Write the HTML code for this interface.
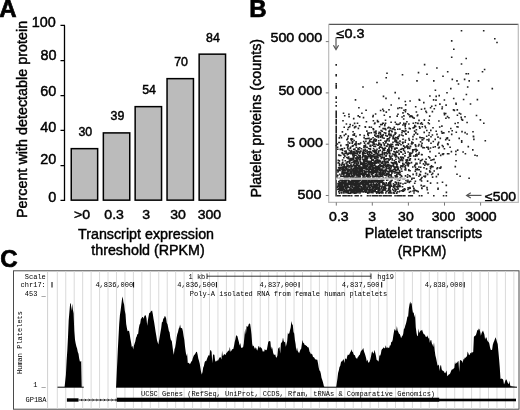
<!DOCTYPE html>
<html><head><meta charset="utf-8"><style>
html,body{margin:0;padding:0;background:#fff;width:520px;height:410px;overflow:hidden}
svg{display:block;will-change:transform}
text{fill:#000}
</style></head><body><svg width="520" height="410" viewBox="0 0 520 410"><text transform="translate(-0.80,17.00)" text-anchor="start" font-family="'Liberation Sans', sans-serif" font-size="24" font-weight="bold" stroke="#000" stroke-width="0.7">A</text><path d="M64.5 25.4 V200.9 M60.5 25.4 H65 M60.5 60.6 H65 M60.5 95.7 H65 M60.5 130.4 H65 M60.5 165.6 H65 M60.5 200.4 H65" stroke="#000" stroke-width="1.3" fill="none"/><text transform="translate(55.70,26.90) scale(1.03,1)" text-anchor="end" font-family="'Liberation Sans', sans-serif" font-size="14" font-weight="normal" stroke="#000" stroke-width="0.45">100</text><text transform="translate(56.50,59.70) scale(1.03,1)" text-anchor="end" font-family="'Liberation Sans', sans-serif" font-size="14" font-weight="normal" stroke="#000" stroke-width="0.45">80</text><text transform="translate(56.20,95.50) scale(1.03,1)" text-anchor="end" font-family="'Liberation Sans', sans-serif" font-size="14" font-weight="normal" stroke="#000" stroke-width="0.45">60</text><text transform="translate(56.30,132.40) scale(1.03,1)" text-anchor="end" font-family="'Liberation Sans', sans-serif" font-size="14" font-weight="normal" stroke="#000" stroke-width="0.45">40</text><text transform="translate(56.30,163.60) scale(1.03,1)" text-anchor="end" font-family="'Liberation Sans', sans-serif" font-size="14" font-weight="normal" stroke="#000" stroke-width="0.45">20</text><text transform="translate(56.20,201.70) scale(1.03,1)" text-anchor="end" font-family="'Liberation Sans', sans-serif" font-size="14" font-weight="normal" stroke="#000" stroke-width="0.45">0</text><rect x="71.25" y="148.65" width="26.4" height="51.50" fill="#bbbbbb" stroke="#000" stroke-width="1.5"/><rect x="103.35" y="132.90" width="26.4" height="67.25" fill="#bbbbbb" stroke="#000" stroke-width="1.5"/><rect x="135.15" y="106.65" width="26.4" height="93.50" fill="#bbbbbb" stroke="#000" stroke-width="1.5"/><rect x="167.05" y="78.65" width="26.4" height="121.50" fill="#bbbbbb" stroke="#000" stroke-width="1.5"/><rect x="199.15" y="54.15" width="26.4" height="146.00" fill="#bbbbbb" stroke="#000" stroke-width="1.5"/><text transform="translate(85.30,135.70) scale(1.03,1)" text-anchor="middle" font-family="'Liberation Sans', sans-serif" font-size="12" font-weight="normal" stroke="#000" stroke-width="0.45">30</text><text transform="translate(117.40,120.30) scale(1.03,1)" text-anchor="middle" font-family="'Liberation Sans', sans-serif" font-size="12" font-weight="normal" stroke="#000" stroke-width="0.45">39</text><text transform="translate(149.00,94.20) scale(1.03,1)" text-anchor="middle" font-family="'Liberation Sans', sans-serif" font-size="12" font-weight="normal" stroke="#000" stroke-width="0.45">54</text><text transform="translate(181.10,65.90) scale(1.03,1)" text-anchor="middle" font-family="'Liberation Sans', sans-serif" font-size="12" font-weight="normal" stroke="#000" stroke-width="0.45">70</text><text transform="translate(212.90,42.10) scale(1.03,1)" text-anchor="middle" font-family="'Liberation Sans', sans-serif" font-size="12" font-weight="normal" stroke="#000" stroke-width="0.45">84</text><text transform="translate(82.00,218.80) scale(1.1,1)" text-anchor="middle" font-family="'Liberation Sans', sans-serif" font-size="12.8" font-weight="normal" stroke="#000" stroke-width="0.45">>0</text><text transform="translate(114.10,218.80) scale(1.1,1)" text-anchor="middle" font-family="'Liberation Sans', sans-serif" font-size="12.8" font-weight="normal" stroke="#000" stroke-width="0.45">0.3</text><text transform="translate(146.10,218.80) scale(1.1,1)" text-anchor="middle" font-family="'Liberation Sans', sans-serif" font-size="12.8" font-weight="normal" stroke="#000" stroke-width="0.45">3</text><text transform="translate(178.10,218.80) scale(1.1,1)" text-anchor="middle" font-family="'Liberation Sans', sans-serif" font-size="12.8" font-weight="normal" stroke="#000" stroke-width="0.45">30</text><text transform="translate(209.40,218.80) scale(1.1,1)" text-anchor="middle" font-family="'Liberation Sans', sans-serif" font-size="12.8" font-weight="normal" stroke="#000" stroke-width="0.45">300</text><text transform="translate(146.00,238.70) scale(0.94,1)" text-anchor="middle" font-family="'Liberation Sans', sans-serif" font-size="15.2" font-weight="normal" stroke="#000" stroke-width="0.45">Transcript expression</text><text transform="translate(148.00,255.20) scale(0.94,1)" text-anchor="middle" font-family="'Liberation Sans', sans-serif" font-size="15.2" font-weight="normal" stroke="#000" stroke-width="0.45">threshold (RPKM)</text><text transform="translate(26.90,119.50) rotate(-90) scale(1.005,1)" text-anchor="middle" font-family="'Liberation Sans', sans-serif" font-size="14.3" font-weight="normal" stroke="#000" stroke-width="0.45">Percent with detectable protein</text><text transform="translate(249.20,17.00)" text-anchor="start" font-family="'Liberation Sans', sans-serif" font-size="24" font-weight="bold" stroke="#000" stroke-width="0.7">B</text><rect x="335.4" y="145" width="1.4" height="51.5" fill="#222"/><path d="M367.6 158.1h1.6v1.6h-1.6zM376.1 133.6h1.6v1.6h-1.6zM362.8 188.1h1.6v1.6h-1.6zM389.0 160.3h1.6v1.6h-1.6zM377.3 171.1h1.6v1.6h-1.6zM373.7 163.2h1.6v1.6h-1.6zM349.7 190.5h1.6v1.6h-1.6zM378.8 143.0h1.6v1.6h-1.6zM373.2 143.5h1.6v1.6h-1.6zM346.5 152.9h1.6v1.6h-1.6zM378.5 162.3h1.6v1.6h-1.6zM356.7 189.1h1.6v1.6h-1.6zM403.1 142.2h1.6v1.6h-1.6zM371.5 152.5h1.6v1.6h-1.6zM376.2 185.0h1.6v1.6h-1.6zM376.5 150.9h1.6v1.6h-1.6zM346.3 152.5h1.6v1.6h-1.6zM377.7 170.3h1.6v1.6h-1.6zM456.1 104.1h1.6v1.6h-1.6zM350.6 177.9h1.6v1.6h-1.6zM395.6 177.2h1.6v1.6h-1.6zM395.1 175.7h1.6v1.6h-1.6zM359.1 167.4h1.6v1.6h-1.6zM413.7 156.0h1.6v1.6h-1.6zM357.0 181.3h1.6v1.6h-1.6zM342.2 163.4h1.6v1.6h-1.6zM371.9 153.5h1.6v1.6h-1.6zM395.9 159.2h1.6v1.6h-1.6zM365.4 172.3h1.6v1.6h-1.6zM431.0 143.2h1.6v1.6h-1.6zM366.9 175.1h1.6v1.6h-1.6zM371.3 132.8h1.6v1.6h-1.6zM363.8 184.8h1.6v1.6h-1.6zM394.6 155.7h1.6v1.6h-1.6zM395.1 132.6h1.6v1.6h-1.6zM409.8 187.5h1.6v1.6h-1.6zM392.1 156.0h1.6v1.6h-1.6zM384.4 145.4h1.6v1.6h-1.6zM389.1 149.0h1.6v1.6h-1.6zM390.0 116.9h1.6v1.6h-1.6zM372.4 171.6h1.6v1.6h-1.6zM360.8 170.4h1.6v1.6h-1.6zM342.1 148.9h1.6v1.6h-1.6zM384.9 175.3h1.6v1.6h-1.6zM401.7 135.0h1.6v1.6h-1.6zM398.3 189.0h1.6v1.6h-1.6zM399.1 153.6h1.6v1.6h-1.6zM346.4 124.0h1.6v1.6h-1.6zM427.0 187.6h1.6v1.6h-1.6zM367.6 143.4h1.6v1.6h-1.6zM353.9 151.9h1.6v1.6h-1.6zM370.5 149.4h1.6v1.6h-1.6zM374.8 186.4h1.6v1.6h-1.6zM366.4 183.2h1.6v1.6h-1.6zM374.6 154.6h1.6v1.6h-1.6zM367.0 174.9h1.6v1.6h-1.6zM356.7 177.1h1.6v1.6h-1.6zM359.2 191.1h1.6v1.6h-1.6zM384.1 138.2h1.6v1.6h-1.6zM360.0 134.9h1.6v1.6h-1.6zM397.5 172.5h1.6v1.6h-1.6zM387.8 149.7h1.6v1.6h-1.6zM370.8 163.8h1.6v1.6h-1.6zM362.5 174.4h1.6v1.6h-1.6zM367.0 156.3h1.6v1.6h-1.6zM395.5 154.1h1.6v1.6h-1.6zM361.3 191.8h1.6v1.6h-1.6zM405.7 104.9h1.6v1.6h-1.6zM370.8 179.1h1.6v1.6h-1.6zM404.5 190.5h1.6v1.6h-1.6zM430.5 172.0h1.6v1.6h-1.6zM402.2 157.2h1.6v1.6h-1.6zM402.7 160.7h1.6v1.6h-1.6zM429.1 120.3h1.6v1.6h-1.6zM344.8 184.9h1.6v1.6h-1.6zM353.3 181.7h1.6v1.6h-1.6zM401.4 152.2h1.6v1.6h-1.6zM375.6 166.0h1.6v1.6h-1.6zM375.5 152.4h1.6v1.6h-1.6zM346.7 166.8h1.6v1.6h-1.6zM386.3 191.5h1.6v1.6h-1.6zM359.5 174.4h1.6v1.6h-1.6zM384.2 157.4h1.6v1.6h-1.6zM347.4 139.3h1.6v1.6h-1.6zM397.8 124.5h1.6v1.6h-1.6zM376.6 181.1h1.6v1.6h-1.6zM414.1 118.1h1.6v1.6h-1.6zM340.7 155.5h1.6v1.6h-1.6zM358.9 107.7h1.6v1.6h-1.6zM422.0 177.5h1.6v1.6h-1.6zM413.1 186.4h1.6v1.6h-1.6zM375.7 172.2h1.6v1.6h-1.6zM391.1 167.0h1.6v1.6h-1.6zM352.9 155.6h1.6v1.6h-1.6zM359.0 176.9h1.6v1.6h-1.6zM374.2 132.0h1.6v1.6h-1.6zM440.9 167.0h1.6v1.6h-1.6zM363.4 153.6h1.6v1.6h-1.6zM385.4 178.1h1.6v1.6h-1.6zM381.5 165.6h1.6v1.6h-1.6zM376.7 173.2h1.6v1.6h-1.6zM367.7 175.0h1.6v1.6h-1.6zM415.5 156.2h1.6v1.6h-1.6zM406.2 147.0h1.6v1.6h-1.6zM395.1 168.0h1.6v1.6h-1.6zM430.4 166.8h1.6v1.6h-1.6zM372.9 177.7h1.6v1.6h-1.6zM359.9 177.7h1.6v1.6h-1.6zM389.6 165.3h1.6v1.6h-1.6zM372.7 175.8h1.6v1.6h-1.6zM345.8 191.4h1.6v1.6h-1.6zM379.8 155.4h1.6v1.6h-1.6zM457.0 126.7h1.6v1.6h-1.6zM369.3 192.0h1.6v1.6h-1.6zM355.1 172.6h1.6v1.6h-1.6zM431.0 136.8h1.6v1.6h-1.6zM391.1 145.9h1.6v1.6h-1.6zM369.4 127.1h1.6v1.6h-1.6zM348.6 181.3h1.6v1.6h-1.6zM428.8 140.9h1.6v1.6h-1.6zM354.5 189.5h1.6v1.6h-1.6zM362.5 179.0h1.6v1.6h-1.6zM369.2 188.5h1.6v1.6h-1.6zM373.4 120.8h1.6v1.6h-1.6zM448.9 131.8h1.6v1.6h-1.6zM375.9 163.1h1.6v1.6h-1.6zM385.7 166.4h1.6v1.6h-1.6zM396.5 170.6h1.6v1.6h-1.6zM373.0 192.6h1.6v1.6h-1.6zM351.3 168.9h1.6v1.6h-1.6zM410.2 146.3h1.6v1.6h-1.6zM371.0 166.3h1.6v1.6h-1.6zM366.1 178.8h1.6v1.6h-1.6zM347.5 183.4h1.6v1.6h-1.6zM407.7 181.7h1.6v1.6h-1.6zM385.8 166.2h1.6v1.6h-1.6zM408.9 138.6h1.6v1.6h-1.6zM350.4 158.6h1.6v1.6h-1.6zM400.1 178.0h1.6v1.6h-1.6zM342.9 190.2h1.6v1.6h-1.6zM407.0 145.7h1.6v1.6h-1.6zM410.6 181.3h1.6v1.6h-1.6zM363.5 117.6h1.6v1.6h-1.6zM361.9 178.5h1.6v1.6h-1.6zM366.9 189.7h1.6v1.6h-1.6zM349.4 170.7h1.6v1.6h-1.6zM403.0 184.0h1.6v1.6h-1.6zM374.5 132.8h1.6v1.6h-1.6zM357.2 189.7h1.6v1.6h-1.6zM392.3 129.0h1.6v1.6h-1.6zM375.8 170.0h1.6v1.6h-1.6zM355.0 171.4h1.6v1.6h-1.6zM344.5 164.4h1.6v1.6h-1.6zM352.3 178.9h1.6v1.6h-1.6zM372.9 116.7h1.6v1.6h-1.6zM357.9 180.9h1.6v1.6h-1.6zM385.4 148.1h1.6v1.6h-1.6zM352.9 177.9h1.6v1.6h-1.6zM397.9 108.4h1.6v1.6h-1.6zM354.1 140.5h1.6v1.6h-1.6zM365.8 151.3h1.6v1.6h-1.6zM346.7 157.5h1.6v1.6h-1.6zM424.4 147.8h1.6v1.6h-1.6zM364.7 167.1h1.6v1.6h-1.6zM373.6 148.6h1.6v1.6h-1.6zM372.7 175.8h1.6v1.6h-1.6zM372.7 164.9h1.6v1.6h-1.6zM371.7 157.4h1.6v1.6h-1.6zM369.8 182.4h1.6v1.6h-1.6zM354.4 153.5h1.6v1.6h-1.6zM374.3 162.3h1.6v1.6h-1.6zM376.2 163.0h1.6v1.6h-1.6zM378.6 151.5h1.6v1.6h-1.6zM361.5 167.9h1.6v1.6h-1.6zM378.4 162.9h1.6v1.6h-1.6zM345.1 184.6h1.6v1.6h-1.6zM381.3 144.6h1.6v1.6h-1.6zM385.6 163.5h1.6v1.6h-1.6zM387.1 153.7h1.6v1.6h-1.6zM346.6 190.4h1.6v1.6h-1.6zM414.7 183.3h1.6v1.6h-1.6zM381.0 136.0h1.6v1.6h-1.6zM346.9 139.7h1.6v1.6h-1.6zM365.4 138.8h1.6v1.6h-1.6zM442.3 145.5h1.6v1.6h-1.6zM349.7 187.9h1.6v1.6h-1.6zM386.9 162.7h1.6v1.6h-1.6zM377.4 161.6h1.6v1.6h-1.6zM357.4 157.2h1.6v1.6h-1.6zM397.4 191.7h1.6v1.6h-1.6zM410.6 146.4h1.6v1.6h-1.6zM366.8 161.5h1.6v1.6h-1.6zM365.5 161.8h1.6v1.6h-1.6zM355.7 165.3h1.6v1.6h-1.6zM374.0 143.9h1.6v1.6h-1.6zM390.8 165.6h1.6v1.6h-1.6zM439.8 168.0h1.6v1.6h-1.6zM399.4 162.3h1.6v1.6h-1.6zM373.4 184.1h1.6v1.6h-1.6zM453.7 98.5h1.6v1.6h-1.6zM373.2 115.6h1.6v1.6h-1.6zM422.4 159.5h1.6v1.6h-1.6zM428.3 122.7h1.6v1.6h-1.6zM369.7 151.5h1.6v1.6h-1.6zM399.4 180.3h1.6v1.6h-1.6zM384.1 128.5h1.6v1.6h-1.6zM389.1 171.6h1.6v1.6h-1.6zM363.1 192.0h1.6v1.6h-1.6zM368.4 185.0h1.6v1.6h-1.6zM380.1 154.5h1.6v1.6h-1.6zM395.4 132.8h1.6v1.6h-1.6zM380.4 173.9h1.6v1.6h-1.6zM416.5 175.0h1.6v1.6h-1.6zM456.0 103.2h1.6v1.6h-1.6zM380.6 110.5h1.6v1.6h-1.6zM371.2 169.4h1.6v1.6h-1.6zM356.3 165.6h1.6v1.6h-1.6zM380.4 132.8h1.6v1.6h-1.6zM366.2 161.6h1.6v1.6h-1.6zM373.7 154.8h1.6v1.6h-1.6zM365.8 183.9h1.6v1.6h-1.6zM396.3 183.9h1.6v1.6h-1.6zM353.0 177.5h1.6v1.6h-1.6zM459.4 113.2h1.6v1.6h-1.6zM440.3 138.4h1.6v1.6h-1.6zM395.7 190.1h1.6v1.6h-1.6zM358.3 168.9h1.6v1.6h-1.6zM369.5 188.2h1.6v1.6h-1.6zM395.6 137.6h1.6v1.6h-1.6zM381.6 154.6h1.6v1.6h-1.6zM376.6 167.8h1.6v1.6h-1.6zM384.3 160.0h1.6v1.6h-1.6zM382.9 192.9h1.6v1.6h-1.6zM366.7 179.9h1.6v1.6h-1.6zM447.5 116.6h1.6v1.6h-1.6zM421.5 109.2h1.6v1.6h-1.6zM359.1 190.6h1.6v1.6h-1.6zM373.0 186.2h1.6v1.6h-1.6zM367.2 169.2h1.6v1.6h-1.6zM364.0 152.6h1.6v1.6h-1.6zM352.2 175.7h1.6v1.6h-1.6zM472.8 149.9h1.6v1.6h-1.6zM368.4 171.3h1.6v1.6h-1.6zM396.5 140.2h1.6v1.6h-1.6zM432.4 135.0h1.6v1.6h-1.6zM376.7 166.9h1.6v1.6h-1.6zM429.3 123.8h1.6v1.6h-1.6zM359.2 183.3h1.6v1.6h-1.6zM394.9 185.9h1.6v1.6h-1.6zM424.8 165.2h1.6v1.6h-1.6zM383.3 142.7h1.6v1.6h-1.6zM357.6 187.9h1.6v1.6h-1.6zM359.7 144.0h1.6v1.6h-1.6zM373.1 171.5h1.6v1.6h-1.6zM396.1 177.7h1.6v1.6h-1.6zM384.7 150.3h1.6v1.6h-1.6zM393.8 166.5h1.6v1.6h-1.6zM417.6 169.7h1.6v1.6h-1.6zM385.8 129.6h1.6v1.6h-1.6zM347.3 171.8h1.6v1.6h-1.6zM367.9 133.1h1.6v1.6h-1.6zM348.5 158.8h1.6v1.6h-1.6zM377.3 155.0h1.6v1.6h-1.6zM344.6 189.3h1.6v1.6h-1.6zM376.9 157.0h1.6v1.6h-1.6zM391.1 167.7h1.6v1.6h-1.6zM373.4 159.7h1.6v1.6h-1.6zM362.9 164.2h1.6v1.6h-1.6zM353.9 152.3h1.6v1.6h-1.6zM363.1 191.6h1.6v1.6h-1.6zM347.4 178.8h1.6v1.6h-1.6zM378.5 137.4h1.6v1.6h-1.6zM399.8 174.7h1.6v1.6h-1.6zM393.8 135.4h1.6v1.6h-1.6zM351.0 182.3h1.6v1.6h-1.6zM427.3 164.3h1.6v1.6h-1.6zM405.2 167.5h1.6v1.6h-1.6zM370.4 152.1h1.6v1.6h-1.6zM398.7 174.0h1.6v1.6h-1.6zM372.2 190.8h1.6v1.6h-1.6zM416.5 139.0h1.6v1.6h-1.6zM374.8 176.2h1.6v1.6h-1.6zM421.2 137.8h1.6v1.6h-1.6zM400.4 186.5h1.6v1.6h-1.6zM402.5 186.8h1.6v1.6h-1.6zM398.9 158.7h1.6v1.6h-1.6zM378.7 178.4h1.6v1.6h-1.6zM388.0 165.2h1.6v1.6h-1.6zM363.9 176.8h1.6v1.6h-1.6zM373.9 165.6h1.6v1.6h-1.6zM354.1 156.8h1.6v1.6h-1.6zM395.0 129.8h1.6v1.6h-1.6zM413.2 127.9h1.6v1.6h-1.6zM457.4 115.2h1.6v1.6h-1.6zM397.7 166.9h1.6v1.6h-1.6zM377.2 162.7h1.6v1.6h-1.6zM349.0 167.4h1.6v1.6h-1.6zM373.1 128.7h1.6v1.6h-1.6zM382.3 157.0h1.6v1.6h-1.6zM375.4 181.1h1.6v1.6h-1.6zM362.2 189.5h1.6v1.6h-1.6zM403.7 131.1h1.6v1.6h-1.6zM378.5 152.9h1.6v1.6h-1.6zM409.1 188.5h1.6v1.6h-1.6zM383.2 166.9h1.6v1.6h-1.6zM415.7 133.0h1.6v1.6h-1.6zM352.0 190.9h1.6v1.6h-1.6zM371.9 174.3h1.6v1.6h-1.6zM365.7 172.7h1.6v1.6h-1.6zM415.7 106.8h1.6v1.6h-1.6zM386.3 170.6h1.6v1.6h-1.6zM373.6 129.7h1.6v1.6h-1.6zM375.2 191.7h1.6v1.6h-1.6zM380.4 144.6h1.6v1.6h-1.6zM416.1 149.2h1.6v1.6h-1.6zM400.2 160.0h1.6v1.6h-1.6zM448.1 144.5h1.6v1.6h-1.6zM395.0 189.0h1.6v1.6h-1.6zM397.6 187.6h1.6v1.6h-1.6zM387.9 158.8h1.6v1.6h-1.6zM372.4 175.1h1.6v1.6h-1.6zM340.3 149.4h1.6v1.6h-1.6zM354.9 149.1h1.6v1.6h-1.6zM370.5 158.1h1.6v1.6h-1.6zM370.8 139.5h1.6v1.6h-1.6zM374.9 181.1h1.6v1.6h-1.6zM391.8 148.7h1.6v1.6h-1.6zM370.3 190.2h1.6v1.6h-1.6zM364.7 177.5h1.6v1.6h-1.6zM356.4 186.2h1.6v1.6h-1.6zM385.8 193.0h1.6v1.6h-1.6zM457.3 109.9h1.6v1.6h-1.6zM443.8 132.9h1.6v1.6h-1.6zM387.2 185.2h1.6v1.6h-1.6zM340.6 135.7h1.6v1.6h-1.6zM368.9 168.5h1.6v1.6h-1.6zM352.5 166.1h1.6v1.6h-1.6zM354.1 175.4h1.6v1.6h-1.6zM391.6 135.6h1.6v1.6h-1.6zM379.8 181.4h1.6v1.6h-1.6zM353.9 170.2h1.6v1.6h-1.6zM342.2 181.7h1.6v1.6h-1.6zM403.0 154.2h1.6v1.6h-1.6zM364.6 172.7h1.6v1.6h-1.6zM356.5 192.0h1.6v1.6h-1.6zM365.3 185.9h1.6v1.6h-1.6zM360.0 173.4h1.6v1.6h-1.6zM448.8 153.7h1.6v1.6h-1.6zM351.3 174.0h1.6v1.6h-1.6zM414.2 127.2h1.6v1.6h-1.6zM354.3 183.5h1.6v1.6h-1.6zM369.0 154.8h1.6v1.6h-1.6zM380.6 176.7h1.6v1.6h-1.6zM359.8 170.7h1.6v1.6h-1.6zM384.5 165.1h1.6v1.6h-1.6zM347.2 173.0h1.6v1.6h-1.6zM369.2 186.9h1.6v1.6h-1.6zM369.1 180.6h1.6v1.6h-1.6zM363.9 189.1h1.6v1.6h-1.6zM369.8 141.1h1.6v1.6h-1.6zM385.0 128.9h1.6v1.6h-1.6zM384.7 125.6h1.6v1.6h-1.6zM371.1 156.5h1.6v1.6h-1.6zM398.4 178.7h1.6v1.6h-1.6zM422.3 126.7h1.6v1.6h-1.6zM357.8 191.1h1.6v1.6h-1.6zM359.1 168.0h1.6v1.6h-1.6zM358.1 172.5h1.6v1.6h-1.6zM373.4 128.7h1.6v1.6h-1.6zM394.4 167.9h1.6v1.6h-1.6zM357.5 123.3h1.6v1.6h-1.6zM383.5 96.4h1.6v1.6h-1.6zM483.8 123.3h1.6v1.6h-1.6zM393.3 171.6h1.6v1.6h-1.6zM354.4 189.0h1.6v1.6h-1.6zM377.0 149.2h1.6v1.6h-1.6zM356.0 160.4h1.6v1.6h-1.6zM370.2 172.1h1.6v1.6h-1.6zM409.6 159.5h1.6v1.6h-1.6zM356.5 182.8h1.6v1.6h-1.6zM354.7 183.5h1.6v1.6h-1.6zM375.7 160.6h1.6v1.6h-1.6zM365.4 181.5h1.6v1.6h-1.6zM389.5 155.7h1.6v1.6h-1.6zM351.3 166.7h1.6v1.6h-1.6zM340.8 145.6h1.6v1.6h-1.6zM380.6 169.0h1.6v1.6h-1.6zM374.3 139.8h1.6v1.6h-1.6zM380.8 180.0h1.6v1.6h-1.6zM403.6 145.7h1.6v1.6h-1.6zM404.6 151.3h1.6v1.6h-1.6zM413.3 123.3h1.6v1.6h-1.6zM370.7 161.8h1.6v1.6h-1.6zM400.8 160.4h1.6v1.6h-1.6zM361.0 178.8h1.6v1.6h-1.6zM355.3 167.9h1.6v1.6h-1.6zM403.3 191.1h1.6v1.6h-1.6zM356.3 173.1h1.6v1.6h-1.6zM347.3 183.6h1.6v1.6h-1.6zM420.7 167.2h1.6v1.6h-1.6zM418.7 154.3h1.6v1.6h-1.6zM382.5 154.9h1.6v1.6h-1.6zM415.3 159.4h1.6v1.6h-1.6zM415.4 149.2h1.6v1.6h-1.6zM394.9 149.1h1.6v1.6h-1.6zM365.1 158.8h1.6v1.6h-1.6zM365.6 147.0h1.6v1.6h-1.6zM427.1 139.7h1.6v1.6h-1.6zM380.6 137.1h1.6v1.6h-1.6zM410.2 176.5h1.6v1.6h-1.6zM339.2 169.2h1.6v1.6h-1.6zM363.5 175.0h1.6v1.6h-1.6zM362.9 184.9h1.6v1.6h-1.6zM457.7 150.1h1.6v1.6h-1.6zM386.9 168.4h1.6v1.6h-1.6zM399.5 135.0h1.6v1.6h-1.6zM398.8 161.4h1.6v1.6h-1.6zM424.3 120.1h1.6v1.6h-1.6zM371.2 156.2h1.6v1.6h-1.6zM403.5 149.3h1.6v1.6h-1.6zM383.9 186.9h1.6v1.6h-1.6zM392.1 170.8h1.6v1.6h-1.6zM430.6 183.1h1.6v1.6h-1.6zM347.0 164.6h1.6v1.6h-1.6zM356.0 136.4h1.6v1.6h-1.6zM407.8 148.4h1.6v1.6h-1.6zM379.3 169.7h1.6v1.6h-1.6zM344.7 190.7h1.6v1.6h-1.6zM355.0 191.0h1.6v1.6h-1.6zM401.4 176.0h1.6v1.6h-1.6zM398.9 150.6h1.6v1.6h-1.6zM412.1 116.3h1.6v1.6h-1.6zM393.5 183.9h1.6v1.6h-1.6zM338.7 170.4h1.6v1.6h-1.6zM380.6 171.6h1.6v1.6h-1.6zM382.6 173.8h1.6v1.6h-1.6zM347.8 129.5h1.6v1.6h-1.6zM396.9 174.5h1.6v1.6h-1.6zM390.7 175.2h1.6v1.6h-1.6zM369.1 170.1h1.6v1.6h-1.6zM403.0 112.9h1.6v1.6h-1.6zM385.7 135.4h1.6v1.6h-1.6zM358.5 171.7h1.6v1.6h-1.6zM349.7 143.1h1.6v1.6h-1.6zM345.4 186.7h1.6v1.6h-1.6zM386.3 165.3h1.6v1.6h-1.6zM346.8 176.9h1.6v1.6h-1.6zM366.1 171.8h1.6v1.6h-1.6zM349.0 174.6h1.6v1.6h-1.6zM391.9 171.7h1.6v1.6h-1.6zM393.5 171.7h1.6v1.6h-1.6zM343.9 173.1h1.6v1.6h-1.6zM386.6 168.0h1.6v1.6h-1.6zM341.1 189.1h1.6v1.6h-1.6zM351.6 179.5h1.6v1.6h-1.6zM378.6 167.5h1.6v1.6h-1.6zM393.6 185.8h1.6v1.6h-1.6zM396.5 148.1h1.6v1.6h-1.6zM434.2 171.0h1.6v1.6h-1.6zM369.9 177.8h1.6v1.6h-1.6zM344.7 115.7h1.6v1.6h-1.6zM371.6 179.1h1.6v1.6h-1.6zM420.4 160.9h1.6v1.6h-1.6zM416.4 129.7h1.6v1.6h-1.6zM366.2 191.6h1.6v1.6h-1.6zM349.0 153.1h1.6v1.6h-1.6zM436.4 176.6h1.6v1.6h-1.6zM380.8 175.7h1.6v1.6h-1.6zM427.6 181.1h1.6v1.6h-1.6zM388.8 183.9h1.6v1.6h-1.6zM396.4 142.5h1.6v1.6h-1.6zM400.0 141.1h1.6v1.6h-1.6zM382.4 190.0h1.6v1.6h-1.6zM361.0 170.1h1.6v1.6h-1.6zM347.7 187.6h1.6v1.6h-1.6zM354.2 183.2h1.6v1.6h-1.6zM387.8 153.4h1.6v1.6h-1.6zM397.9 169.3h1.6v1.6h-1.6zM401.8 157.6h1.6v1.6h-1.6zM428.1 148.0h1.6v1.6h-1.6zM429.8 171.9h1.6v1.6h-1.6zM433.6 99.9h1.6v1.6h-1.6zM379.1 187.9h1.6v1.6h-1.6zM377.2 155.0h1.6v1.6h-1.6zM359.0 179.5h1.6v1.6h-1.6zM380.7 140.3h1.6v1.6h-1.6zM358.4 128.4h1.6v1.6h-1.6zM421.8 188.1h1.6v1.6h-1.6zM390.4 165.9h1.6v1.6h-1.6zM352.8 125.5h1.6v1.6h-1.6zM362.3 169.5h1.6v1.6h-1.6zM382.4 136.3h1.6v1.6h-1.6zM401.5 169.0h1.6v1.6h-1.6zM370.0 187.9h1.6v1.6h-1.6zM355.0 126.9h1.6v1.6h-1.6zM364.9 190.4h1.6v1.6h-1.6zM397.8 129.3h1.6v1.6h-1.6zM437.0 168.6h1.6v1.6h-1.6zM444.5 114.6h1.6v1.6h-1.6zM429.3 132.8h1.6v1.6h-1.6zM350.3 171.8h1.6v1.6h-1.6zM439.7 127.0h1.6v1.6h-1.6zM398.6 182.5h1.6v1.6h-1.6zM359.2 179.0h1.6v1.6h-1.6zM355.3 179.6h1.6v1.6h-1.6zM378.6 191.8h1.6v1.6h-1.6zM415.3 164.7h1.6v1.6h-1.6zM391.4 170.3h1.6v1.6h-1.6zM408.5 162.9h1.6v1.6h-1.6zM350.4 165.9h1.6v1.6h-1.6zM429.9 96.0h1.6v1.6h-1.6zM364.1 145.9h1.6v1.6h-1.6zM354.6 152.1h1.6v1.6h-1.6zM349.4 184.0h1.6v1.6h-1.6zM371.6 180.5h1.6v1.6h-1.6zM363.5 183.3h1.6v1.6h-1.6zM351.3 150.6h1.6v1.6h-1.6zM428.9 135.3h1.6v1.6h-1.6zM434.0 159.4h1.6v1.6h-1.6zM418.9 167.0h1.6v1.6h-1.6zM374.5 161.3h1.6v1.6h-1.6zM371.4 127.3h1.6v1.6h-1.6zM455.3 166.6h1.6v1.6h-1.6zM449.3 140.3h1.6v1.6h-1.6zM394.8 188.4h1.6v1.6h-1.6zM358.9 174.3h1.6v1.6h-1.6zM344.5 177.3h1.6v1.6h-1.6zM395.1 134.1h1.6v1.6h-1.6zM467.1 122.5h1.6v1.6h-1.6zM365.5 167.6h1.6v1.6h-1.6zM386.7 185.4h1.6v1.6h-1.6zM376.5 187.2h1.6v1.6h-1.6zM341.9 181.2h1.6v1.6h-1.6zM373.4 178.2h1.6v1.6h-1.6zM351.0 164.2h1.6v1.6h-1.6zM422.4 124.3h1.6v1.6h-1.6zM362.1 164.3h1.6v1.6h-1.6zM380.8 174.3h1.6v1.6h-1.6zM353.0 170.8h1.6v1.6h-1.6zM355.5 168.6h1.6v1.6h-1.6zM357.8 157.4h1.6v1.6h-1.6zM438.7 142.4h1.6v1.6h-1.6zM359.6 173.5h1.6v1.6h-1.6zM354.9 178.1h1.6v1.6h-1.6zM382.3 131.2h1.6v1.6h-1.6zM413.4 128.0h1.6v1.6h-1.6zM356.2 166.6h1.6v1.6h-1.6zM466.4 94.5h1.6v1.6h-1.6zM370.2 168.6h1.6v1.6h-1.6zM379.7 182.7h1.6v1.6h-1.6zM380.4 182.7h1.6v1.6h-1.6zM382.3 172.5h1.6v1.6h-1.6zM341.0 176.1h1.6v1.6h-1.6zM365.0 158.9h1.6v1.6h-1.6zM354.6 123.4h1.6v1.6h-1.6zM378.4 145.2h1.6v1.6h-1.6zM361.1 174.3h1.6v1.6h-1.6zM401.6 157.4h1.6v1.6h-1.6zM399.3 191.8h1.6v1.6h-1.6zM344.4 148.3h1.6v1.6h-1.6zM364.5 178.8h1.6v1.6h-1.6zM362.3 172.8h1.6v1.6h-1.6zM348.3 183.0h1.6v1.6h-1.6zM374.1 185.1h1.6v1.6h-1.6zM391.5 177.1h1.6v1.6h-1.6zM357.0 177.6h1.6v1.6h-1.6zM387.7 164.8h1.6v1.6h-1.6zM417.7 115.0h1.6v1.6h-1.6zM357.2 191.7h1.6v1.6h-1.6zM409.0 188.3h1.6v1.6h-1.6zM409.8 160.3h1.6v1.6h-1.6zM417.3 115.8h1.6v1.6h-1.6zM379.0 174.0h1.6v1.6h-1.6zM399.1 154.1h1.6v1.6h-1.6zM394.4 160.5h1.6v1.6h-1.6zM371.8 185.3h1.6v1.6h-1.6zM357.5 160.1h1.6v1.6h-1.6zM339.7 164.8h1.6v1.6h-1.6zM359.4 159.7h1.6v1.6h-1.6zM343.4 169.4h1.6v1.6h-1.6zM368.5 189.8h1.6v1.6h-1.6zM470.5 104.0h1.6v1.6h-1.6zM353.2 189.8h1.6v1.6h-1.6zM412.1 178.2h1.6v1.6h-1.6zM414.2 190.9h1.6v1.6h-1.6zM370.1 163.8h1.6v1.6h-1.6zM376.4 183.7h1.6v1.6h-1.6zM399.8 185.2h1.6v1.6h-1.6zM388.9 131.2h1.6v1.6h-1.6zM385.2 185.8h1.6v1.6h-1.6zM362.8 178.0h1.6v1.6h-1.6zM377.4 184.5h1.6v1.6h-1.6zM396.6 182.6h1.6v1.6h-1.6zM386.3 167.7h1.6v1.6h-1.6zM387.9 128.0h1.6v1.6h-1.6zM361.6 187.7h1.6v1.6h-1.6zM404.9 166.2h1.6v1.6h-1.6zM358.2 115.9h1.6v1.6h-1.6zM348.0 146.4h1.6v1.6h-1.6zM351.2 173.9h1.6v1.6h-1.6zM385.1 152.9h1.6v1.6h-1.6zM398.1 185.3h1.6v1.6h-1.6zM352.5 192.7h1.6v1.6h-1.6zM372.5 172.8h1.6v1.6h-1.6zM447.5 137.8h1.6v1.6h-1.6zM425.6 173.4h1.6v1.6h-1.6zM408.0 146.6h1.6v1.6h-1.6zM412.7 149.8h1.6v1.6h-1.6zM383.5 170.5h1.6v1.6h-1.6zM416.3 150.0h1.6v1.6h-1.6zM374.8 154.5h1.6v1.6h-1.6zM367.6 189.7h1.6v1.6h-1.6zM350.2 124.6h1.6v1.6h-1.6zM384.8 159.7h1.6v1.6h-1.6zM376.2 170.4h1.6v1.6h-1.6zM409.0 114.7h1.6v1.6h-1.6zM412.8 167.0h1.6v1.6h-1.6zM415.9 146.4h1.6v1.6h-1.6zM396.8 156.5h1.6v1.6h-1.6zM386.0 142.0h1.6v1.6h-1.6zM371.7 182.5h1.6v1.6h-1.6zM372.1 155.7h1.6v1.6h-1.6zM458.0 122.7h1.6v1.6h-1.6zM380.2 150.4h1.6v1.6h-1.6zM353.5 161.9h1.6v1.6h-1.6zM395.2 92.6h1.6v1.6h-1.6zM358.7 190.2h1.6v1.6h-1.6zM383.1 128.6h1.6v1.6h-1.6zM390.7 184.3h1.6v1.6h-1.6zM382.0 186.5h1.6v1.6h-1.6zM425.5 176.0h1.6v1.6h-1.6zM400.4 179.5h1.6v1.6h-1.6zM372.8 179.8h1.6v1.6h-1.6zM374.4 189.9h1.6v1.6h-1.6zM377.8 157.7h1.6v1.6h-1.6zM367.5 183.3h1.6v1.6h-1.6zM355.2 187.2h1.6v1.6h-1.6zM373.1 137.8h1.6v1.6h-1.6zM371.4 170.4h1.6v1.6h-1.6zM456.3 132.3h1.6v1.6h-1.6zM387.7 171.4h1.6v1.6h-1.6zM372.2 162.9h1.6v1.6h-1.6zM373.9 146.3h1.6v1.6h-1.6zM355.4 143.9h1.6v1.6h-1.6zM353.5 156.3h1.6v1.6h-1.6zM348.0 186.5h1.6v1.6h-1.6zM371.8 156.1h1.6v1.6h-1.6zM359.0 190.2h1.6v1.6h-1.6zM430.6 107.7h1.6v1.6h-1.6zM389.1 140.9h1.6v1.6h-1.6zM370.7 154.6h1.6v1.6h-1.6zM370.3 171.9h1.6v1.6h-1.6zM357.2 174.7h1.6v1.6h-1.6zM425.9 162.4h1.6v1.6h-1.6zM350.8 181.8h1.6v1.6h-1.6zM375.3 185.9h1.6v1.6h-1.6zM366.2 169.6h1.6v1.6h-1.6zM356.4 182.5h1.6v1.6h-1.6zM394.5 193.1h1.6v1.6h-1.6zM374.5 180.2h1.6v1.6h-1.6zM388.7 152.2h1.6v1.6h-1.6zM423.8 102.6h1.6v1.6h-1.6zM381.5 157.1h1.6v1.6h-1.6zM341.4 192.2h1.6v1.6h-1.6zM377.5 135.7h1.6v1.6h-1.6zM384.3 132.8h1.6v1.6h-1.6zM355.3 187.3h1.6v1.6h-1.6zM348.2 169.2h1.6v1.6h-1.6zM394.5 138.7h1.6v1.6h-1.6zM372.6 145.3h1.6v1.6h-1.6zM365.3 149.2h1.6v1.6h-1.6zM351.8 189.7h1.6v1.6h-1.6zM411.8 179.3h1.6v1.6h-1.6zM406.7 162.3h1.6v1.6h-1.6zM382.9 162.1h1.6v1.6h-1.6zM374.5 176.2h1.6v1.6h-1.6zM346.5 167.4h1.6v1.6h-1.6zM421.5 145.0h1.6v1.6h-1.6zM348.5 127.5h1.6v1.6h-1.6zM359.5 125.7h1.6v1.6h-1.6zM357.5 170.9h1.6v1.6h-1.6zM438.2 174.4h1.6v1.6h-1.6zM400.0 172.1h1.6v1.6h-1.6zM388.8 148.3h1.6v1.6h-1.6zM373.9 187.5h1.6v1.6h-1.6zM348.2 165.4h1.6v1.6h-1.6zM389.9 156.8h1.6v1.6h-1.6zM359.4 172.5h1.6v1.6h-1.6zM365.7 155.8h1.6v1.6h-1.6zM344.4 186.6h1.6v1.6h-1.6zM353.4 159.8h1.6v1.6h-1.6zM448.9 117.8h1.6v1.6h-1.6zM432.6 177.1h1.6v1.6h-1.6zM365.5 145.1h1.6v1.6h-1.6zM409.4 192.2h1.6v1.6h-1.6zM354.6 155.2h1.6v1.6h-1.6zM409.8 154.2h1.6v1.6h-1.6zM456.1 160.7h1.6v1.6h-1.6zM461.7 142.3h1.6v1.6h-1.6zM366.1 166.2h1.6v1.6h-1.6zM372.8 178.5h1.6v1.6h-1.6zM389.9 169.7h1.6v1.6h-1.6zM354.9 178.8h1.6v1.6h-1.6zM388.4 176.8h1.6v1.6h-1.6zM382.6 148.5h1.6v1.6h-1.6zM346.1 151.1h1.6v1.6h-1.6zM378.7 135.8h1.6v1.6h-1.6zM414.4 127.4h1.6v1.6h-1.6zM347.3 154.6h1.6v1.6h-1.6zM376.5 191.9h1.6v1.6h-1.6zM384.5 154.6h1.6v1.6h-1.6zM419.9 128.1h1.6v1.6h-1.6zM433.3 141.5h1.6v1.6h-1.6zM382.3 180.4h1.6v1.6h-1.6zM358.6 166.8h1.6v1.6h-1.6zM373.1 168.5h1.6v1.6h-1.6zM393.1 165.5h1.6v1.6h-1.6zM388.2 150.7h1.6v1.6h-1.6zM388.9 173.3h1.6v1.6h-1.6zM391.5 147.4h1.6v1.6h-1.6zM342.9 172.5h1.6v1.6h-1.6zM365.1 168.8h1.6v1.6h-1.6zM389.1 144.9h1.6v1.6h-1.6zM426.5 112.5h1.6v1.6h-1.6zM357.1 188.0h1.6v1.6h-1.6zM361.7 164.1h1.6v1.6h-1.6zM369.9 146.0h1.6v1.6h-1.6zM367.8 134.2h1.6v1.6h-1.6zM393.6 178.3h1.6v1.6h-1.6zM344.8 169.7h1.6v1.6h-1.6zM360.2 151.9h1.6v1.6h-1.6zM425.1 126.3h1.6v1.6h-1.6zM366.1 168.2h1.6v1.6h-1.6zM347.9 170.1h1.6v1.6h-1.6zM405.7 168.5h1.6v1.6h-1.6zM352.0 191.7h1.6v1.6h-1.6zM368.6 155.9h1.6v1.6h-1.6zM452.2 130.8h1.6v1.6h-1.6zM385.5 164.4h1.6v1.6h-1.6zM402.8 163.2h1.6v1.6h-1.6zM386.6 175.2h1.6v1.6h-1.6zM341.9 173.7h1.6v1.6h-1.6zM408.2 132.1h1.6v1.6h-1.6zM360.8 151.1h1.6v1.6h-1.6zM356.8 191.1h1.6v1.6h-1.6zM342.8 162.2h1.6v1.6h-1.6zM376.9 174.0h1.6v1.6h-1.6zM358.3 162.0h1.6v1.6h-1.6zM350.4 148.2h1.6v1.6h-1.6zM462.0 131.6h1.6v1.6h-1.6zM358.4 190.3h1.6v1.6h-1.6zM410.3 153.9h1.6v1.6h-1.6zM376.3 181.4h1.6v1.6h-1.6zM398.0 172.7h1.6v1.6h-1.6zM365.3 187.5h1.6v1.6h-1.6zM353.7 149.3h1.6v1.6h-1.6zM354.5 175.2h1.6v1.6h-1.6zM415.4 181.3h1.6v1.6h-1.6zM352.3 180.9h1.6v1.6h-1.6zM352.5 182.3h1.6v1.6h-1.6zM374.3 186.9h1.6v1.6h-1.6zM377.9 168.8h1.6v1.6h-1.6zM359.3 183.9h1.6v1.6h-1.6zM398.0 114.3h1.6v1.6h-1.6zM419.9 137.4h1.6v1.6h-1.6zM379.2 148.1h1.6v1.6h-1.6zM379.4 172.8h1.6v1.6h-1.6zM422.0 188.4h1.6v1.6h-1.6zM358.0 149.5h1.6v1.6h-1.6zM379.8 190.6h1.6v1.6h-1.6zM375.4 185.8h1.6v1.6h-1.6zM342.9 153.6h1.6v1.6h-1.6zM413.1 191.0h1.6v1.6h-1.6zM371.0 163.4h1.6v1.6h-1.6zM415.5 167.3h1.6v1.6h-1.6zM405.9 130.7h1.6v1.6h-1.6zM376.4 176.7h1.6v1.6h-1.6zM388.1 184.2h1.6v1.6h-1.6zM428.1 147.2h1.6v1.6h-1.6zM390.5 135.4h1.6v1.6h-1.6zM477.4 99.6h1.6v1.6h-1.6zM390.9 185.3h1.6v1.6h-1.6zM386.3 152.7h1.6v1.6h-1.6zM414.0 188.9h1.6v1.6h-1.6zM402.9 191.3h1.6v1.6h-1.6zM355.6 177.8h1.6v1.6h-1.6zM393.1 186.7h1.6v1.6h-1.6zM380.4 172.9h1.6v1.6h-1.6zM427.3 189.6h1.6v1.6h-1.6zM363.5 153.6h1.6v1.6h-1.6zM435.7 156.1h1.6v1.6h-1.6zM398.1 173.6h1.6v1.6h-1.6zM379.2 185.9h1.6v1.6h-1.6zM402.0 132.8h1.6v1.6h-1.6zM367.2 176.4h1.6v1.6h-1.6zM363.9 186.7h1.6v1.6h-1.6zM367.7 154.3h1.6v1.6h-1.6zM403.9 146.3h1.6v1.6h-1.6zM395.5 167.3h1.6v1.6h-1.6zM362.3 163.6h1.6v1.6h-1.6zM368.4 163.6h1.6v1.6h-1.6zM357.7 175.6h1.6v1.6h-1.6zM392.1 131.6h1.6v1.6h-1.6zM363.5 168.4h1.6v1.6h-1.6zM379.1 192.9h1.6v1.6h-1.6zM368.0 182.7h1.6v1.6h-1.6zM392.2 179.9h1.6v1.6h-1.6zM385.4 172.1h1.6v1.6h-1.6zM377.8 162.2h1.6v1.6h-1.6zM357.3 189.4h1.6v1.6h-1.6zM379.0 162.6h1.6v1.6h-1.6zM373.0 176.5h1.6v1.6h-1.6zM454.4 110.4h1.6v1.6h-1.6zM408.4 144.1h1.6v1.6h-1.6zM411.1 116.5h1.6v1.6h-1.6zM383.0 167.6h1.6v1.6h-1.6zM357.2 179.0h1.6v1.6h-1.6zM359.2 180.4h1.6v1.6h-1.6zM438.1 143.6h1.6v1.6h-1.6zM350.5 176.3h1.6v1.6h-1.6zM387.4 191.0h1.6v1.6h-1.6zM405.1 189.3h1.6v1.6h-1.6zM357.7 187.8h1.6v1.6h-1.6zM347.4 191.1h1.6v1.6h-1.6zM391.9 173.3h1.6v1.6h-1.6zM372.7 178.2h1.6v1.6h-1.6zM375.3 161.9h1.6v1.6h-1.6zM405.0 124.9h1.6v1.6h-1.6zM396.5 186.6h1.6v1.6h-1.6zM412.7 151.9h1.6v1.6h-1.6zM378.7 151.0h1.6v1.6h-1.6zM390.0 153.7h1.6v1.6h-1.6zM405.5 128.7h1.6v1.6h-1.6zM402.8 166.6h1.6v1.6h-1.6zM418.4 146.0h1.6v1.6h-1.6zM377.4 166.6h1.6v1.6h-1.6zM378.5 160.2h1.6v1.6h-1.6zM390.9 144.3h1.6v1.6h-1.6zM451.4 151.6h1.6v1.6h-1.6zM340.4 168.1h1.6v1.6h-1.6zM341.1 185.3h1.6v1.6h-1.6zM477.1 155.8h1.6v1.6h-1.6zM369.7 161.6h1.6v1.6h-1.6zM390.2 183.9h1.6v1.6h-1.6zM396.6 163.6h1.6v1.6h-1.6zM365.9 141.3h1.6v1.6h-1.6zM384.2 158.2h1.6v1.6h-1.6zM348.6 193.1h1.6v1.6h-1.6zM362.2 174.2h1.6v1.6h-1.6zM412.7 151.3h1.6v1.6h-1.6zM389.1 133.3h1.6v1.6h-1.6zM352.2 184.7h1.6v1.6h-1.6zM387.9 179.8h1.6v1.6h-1.6zM348.7 157.1h1.6v1.6h-1.6zM357.4 172.4h1.6v1.6h-1.6zM371.3 192.5h1.6v1.6h-1.6zM404.7 147.6h1.6v1.6h-1.6zM360.7 183.1h1.6v1.6h-1.6zM367.0 166.5h1.6v1.6h-1.6zM368.0 164.5h1.6v1.6h-1.6zM429.8 157.9h1.6v1.6h-1.6zM435.2 139.4h1.6v1.6h-1.6zM385.5 120.3h1.6v1.6h-1.6zM382.7 183.9h1.6v1.6h-1.6zM381.3 169.4h1.6v1.6h-1.6zM420.7 171.6h1.6v1.6h-1.6zM407.7 164.9h1.6v1.6h-1.6zM405.2 126.7h1.6v1.6h-1.6zM365.8 186.6h1.6v1.6h-1.6zM385.8 143.0h1.6v1.6h-1.6zM384.9 170.9h1.6v1.6h-1.6zM356.5 184.3h1.6v1.6h-1.6zM364.7 166.0h1.6v1.6h-1.6zM351.8 171.1h1.6v1.6h-1.6zM393.1 137.1h1.6v1.6h-1.6zM378.3 172.0h1.6v1.6h-1.6zM359.7 116.9h1.6v1.6h-1.6zM407.8 160.6h1.6v1.6h-1.6zM385.1 128.5h1.6v1.6h-1.6zM386.3 183.0h1.6v1.6h-1.6zM401.3 149.2h1.6v1.6h-1.6zM377.6 176.5h1.6v1.6h-1.6zM351.9 179.3h1.6v1.6h-1.6zM373.0 171.0h1.6v1.6h-1.6zM381.2 158.5h1.6v1.6h-1.6zM463.1 152.0h1.6v1.6h-1.6zM396.8 178.2h1.6v1.6h-1.6zM445.7 139.7h1.6v1.6h-1.6zM416.8 163.4h1.6v1.6h-1.6zM348.1 142.0h1.6v1.6h-1.6zM428.6 164.3h1.6v1.6h-1.6zM358.9 184.0h1.6v1.6h-1.6zM394.8 169.2h1.6v1.6h-1.6zM385.3 169.7h1.6v1.6h-1.6zM351.0 160.2h1.6v1.6h-1.6zM467.1 134.0h1.6v1.6h-1.6zM371.1 182.3h1.6v1.6h-1.6zM345.5 181.0h1.6v1.6h-1.6zM350.8 193.0h1.6v1.6h-1.6zM390.9 134.3h1.6v1.6h-1.6zM400.3 177.9h1.6v1.6h-1.6zM397.1 164.6h1.6v1.6h-1.6zM361.9 174.3h1.6v1.6h-1.6zM376.0 179.6h1.6v1.6h-1.6zM409.5 175.9h1.6v1.6h-1.6zM395.2 191.2h1.6v1.6h-1.6zM473.0 131.8h1.6v1.6h-1.6zM385.5 169.8h1.6v1.6h-1.6zM405.7 165.5h1.6v1.6h-1.6zM382.5 137.6h1.6v1.6h-1.6zM356.0 180.4h1.6v1.6h-1.6zM353.6 173.5h1.6v1.6h-1.6zM360.9 173.8h1.6v1.6h-1.6zM378.8 155.2h1.6v1.6h-1.6zM349.6 163.2h1.6v1.6h-1.6zM356.9 172.8h1.6v1.6h-1.6zM385.4 162.4h1.6v1.6h-1.6zM343.8 184.0h1.6v1.6h-1.6zM391.4 171.7h1.6v1.6h-1.6zM353.2 182.6h1.6v1.6h-1.6zM348.5 192.1h1.6v1.6h-1.6zM366.1 174.8h1.6v1.6h-1.6zM422.8 139.8h1.6v1.6h-1.6zM375.6 188.0h1.6v1.6h-1.6zM363.0 181.7h1.6v1.6h-1.6zM380.7 124.6h1.6v1.6h-1.6zM353.4 170.5h1.6v1.6h-1.6zM362.2 167.3h1.6v1.6h-1.6zM371.8 186.4h1.6v1.6h-1.6zM359.5 186.3h1.6v1.6h-1.6zM375.5 174.5h1.6v1.6h-1.6zM359.1 168.5h1.6v1.6h-1.6zM424.0 138.4h1.6v1.6h-1.6zM375.8 178.5h1.6v1.6h-1.6zM419.7 174.4h1.6v1.6h-1.6zM352.9 178.0h1.6v1.6h-1.6zM396.4 124.1h1.6v1.6h-1.6zM352.4 146.1h1.6v1.6h-1.6zM388.7 164.4h1.6v1.6h-1.6zM349.9 161.7h1.6v1.6h-1.6zM367.5 138.5h1.6v1.6h-1.6zM358.4 186.0h1.6v1.6h-1.6zM363.3 177.5h1.6v1.6h-1.6zM402.5 142.3h1.6v1.6h-1.6zM407.1 163.8h1.6v1.6h-1.6zM401.0 165.7h1.6v1.6h-1.6zM347.4 171.2h1.6v1.6h-1.6zM370.9 189.8h1.6v1.6h-1.6zM370.7 141.7h1.6v1.6h-1.6zM378.7 144.5h1.6v1.6h-1.6zM363.9 147.5h1.6v1.6h-1.6zM358.1 173.4h1.6v1.6h-1.6zM403.1 165.8h1.6v1.6h-1.6zM357.0 169.6h1.6v1.6h-1.6zM369.0 172.8h1.6v1.6h-1.6zM360.0 175.8h1.6v1.6h-1.6zM381.7 179.1h1.6v1.6h-1.6zM342.0 184.7h1.6v1.6h-1.6zM380.2 161.0h1.6v1.6h-1.6zM359.4 169.6h1.6v1.6h-1.6zM384.3 161.2h1.6v1.6h-1.6zM366.3 163.8h1.6v1.6h-1.6zM383.7 188.9h1.6v1.6h-1.6zM374.7 184.5h1.6v1.6h-1.6zM408.6 157.4h1.6v1.6h-1.6zM390.5 190.6h1.6v1.6h-1.6zM359.8 147.7h1.6v1.6h-1.6zM416.9 169.8h1.6v1.6h-1.6zM395.6 141.4h1.6v1.6h-1.6zM382.0 166.4h1.6v1.6h-1.6zM443.6 153.7h1.6v1.6h-1.6zM403.0 139.3h1.6v1.6h-1.6zM396.7 175.0h1.6v1.6h-1.6zM372.8 167.1h1.6v1.6h-1.6zM344.7 172.7h1.6v1.6h-1.6zM358.8 165.8h1.6v1.6h-1.6zM432.6 159.8h1.6v1.6h-1.6zM355.2 181.3h1.6v1.6h-1.6zM351.7 172.7h1.6v1.6h-1.6zM407.5 177.1h1.6v1.6h-1.6zM365.5 187.2h1.6v1.6h-1.6zM348.7 169.7h1.6v1.6h-1.6zM384.2 153.2h1.6v1.6h-1.6zM373.2 180.0h1.6v1.6h-1.6zM373.3 160.5h1.6v1.6h-1.6zM361.8 168.9h1.6v1.6h-1.6zM351.2 181.4h1.6v1.6h-1.6zM405.2 125.6h1.6v1.6h-1.6zM420.1 163.0h1.6v1.6h-1.6zM369.1 190.5h1.6v1.6h-1.6zM373.7 188.3h1.6v1.6h-1.6zM405.4 111.7h1.6v1.6h-1.6zM383.2 165.6h1.6v1.6h-1.6zM415.5 145.4h1.6v1.6h-1.6zM367.5 179.5h1.6v1.6h-1.6zM342.4 131.9h1.6v1.6h-1.6zM350.4 158.6h1.6v1.6h-1.6zM357.9 165.5h1.6v1.6h-1.6zM344.9 179.1h1.6v1.6h-1.6zM385.0 171.0h1.6v1.6h-1.6zM392.6 163.1h1.6v1.6h-1.6zM369.5 192.6h1.6v1.6h-1.6zM411.8 142.0h1.6v1.6h-1.6zM409.9 116.6h1.6v1.6h-1.6zM406.1 134.2h1.6v1.6h-1.6zM350.0 183.9h1.6v1.6h-1.6zM446.4 192.4h1.6v1.6h-1.6zM347.8 162.0h1.6v1.6h-1.6zM365.6 153.3h1.6v1.6h-1.6zM382.1 186.0h1.6v1.6h-1.6zM368.2 163.0h1.6v1.6h-1.6zM392.8 189.4h1.6v1.6h-1.6zM367.0 159.9h1.6v1.6h-1.6zM347.3 190.3h1.6v1.6h-1.6zM457.0 174.2h1.6v1.6h-1.6zM344.8 191.8h1.6v1.6h-1.6zM392.6 154.0h1.6v1.6h-1.6zM357.1 161.3h1.6v1.6h-1.6zM396.7 151.4h1.6v1.6h-1.6zM373.8 171.7h1.6v1.6h-1.6zM376.6 187.9h1.6v1.6h-1.6zM424.7 108.6h1.6v1.6h-1.6zM403.1 135.8h1.6v1.6h-1.6zM397.2 144.5h1.6v1.6h-1.6zM350.7 182.9h1.6v1.6h-1.6zM369.7 189.3h1.6v1.6h-1.6zM378.8 162.6h1.6v1.6h-1.6zM364.3 161.2h1.6v1.6h-1.6zM370.8 185.9h1.6v1.6h-1.6zM351.0 184.3h1.6v1.6h-1.6zM411.8 153.3h1.6v1.6h-1.6zM389.6 171.4h1.6v1.6h-1.6zM381.5 191.2h1.6v1.6h-1.6zM458.0 127.0h1.6v1.6h-1.6zM376.2 152.9h1.6v1.6h-1.6zM352.7 179.0h1.6v1.6h-1.6zM465.4 153.8h1.6v1.6h-1.6zM460.7 114.0h1.6v1.6h-1.6zM376.5 171.3h1.6v1.6h-1.6zM393.9 151.5h1.6v1.6h-1.6zM387.2 139.9h1.6v1.6h-1.6zM400.5 167.4h1.6v1.6h-1.6zM354.2 134.3h1.6v1.6h-1.6zM386.8 146.0h1.6v1.6h-1.6zM372.4 166.6h1.6v1.6h-1.6zM407.7 174.7h1.6v1.6h-1.6zM362.6 152.6h1.6v1.6h-1.6zM370.5 176.5h1.6v1.6h-1.6zM388.6 174.2h1.6v1.6h-1.6zM451.7 134.4h1.6v1.6h-1.6zM450.8 128.5h1.6v1.6h-1.6zM397.1 164.6h1.6v1.6h-1.6zM378.3 180.6h1.6v1.6h-1.6zM395.6 169.8h1.6v1.6h-1.6zM396.0 152.5h1.6v1.6h-1.6zM408.0 189.5h1.6v1.6h-1.6zM373.9 177.1h1.6v1.6h-1.6zM348.2 193.0h1.6v1.6h-1.6zM396.6 178.4h1.6v1.6h-1.6zM364.0 162.7h1.6v1.6h-1.6zM349.2 175.1h1.6v1.6h-1.6zM367.6 192.4h1.6v1.6h-1.6zM396.9 164.2h1.6v1.6h-1.6zM368.9 169.4h1.6v1.6h-1.6zM420.6 141.8h1.6v1.6h-1.6zM485.3 140.8h1.6v1.6h-1.6zM370.9 185.1h1.6v1.6h-1.6zM368.3 182.7h1.6v1.6h-1.6zM354.3 165.6h1.6v1.6h-1.6zM384.3 152.5h1.6v1.6h-1.6zM407.8 113.8h1.6v1.6h-1.6zM383.7 167.4h1.6v1.6h-1.6zM391.0 181.5h1.6v1.6h-1.6zM376.1 158.8h1.6v1.6h-1.6zM366.4 138.8h1.6v1.6h-1.6zM353.5 178.2h1.6v1.6h-1.6zM387.6 185.2h1.6v1.6h-1.6zM375.9 168.8h1.6v1.6h-1.6zM421.5 146.5h1.6v1.6h-1.6zM360.4 182.8h1.6v1.6h-1.6zM367.2 152.8h1.6v1.6h-1.6zM368.4 174.1h1.6v1.6h-1.6zM437.8 144.9h1.6v1.6h-1.6zM347.8 138.0h1.6v1.6h-1.6zM356.0 180.9h1.6v1.6h-1.6zM397.5 144.3h1.6v1.6h-1.6zM394.6 151.9h1.6v1.6h-1.6zM358.5 184.1h1.6v1.6h-1.6zM368.0 162.5h1.6v1.6h-1.6zM376.1 140.8h1.6v1.6h-1.6zM447.5 138.6h1.6v1.6h-1.6zM388.7 127.3h1.6v1.6h-1.6zM434.3 108.8h1.6v1.6h-1.6zM403.7 119.0h1.6v1.6h-1.6zM383.9 167.6h1.6v1.6h-1.6zM389.7 174.8h1.6v1.6h-1.6zM355.9 188.2h1.6v1.6h-1.6zM381.8 135.6h1.6v1.6h-1.6zM375.0 172.5h1.6v1.6h-1.6zM419.2 99.6h1.6v1.6h-1.6zM350.2 165.7h1.6v1.6h-1.6zM414.7 165.9h1.6v1.6h-1.6zM355.2 185.1h1.6v1.6h-1.6zM344.0 181.6h1.6v1.6h-1.6zM394.3 160.5h1.6v1.6h-1.6zM388.1 185.5h1.6v1.6h-1.6zM414.2 134.6h1.6v1.6h-1.6zM363.5 184.8h1.6v1.6h-1.6zM366.4 121.8h1.6v1.6h-1.6zM388.8 190.6h1.6v1.6h-1.6zM399.7 143.4h1.6v1.6h-1.6zM354.6 185.3h1.6v1.6h-1.6zM381.7 192.9h1.6v1.6h-1.6zM372.4 142.1h1.6v1.6h-1.6zM426.8 147.2h1.6v1.6h-1.6zM426.1 159.2h1.6v1.6h-1.6zM344.3 165.1h1.6v1.6h-1.6zM432.4 111.6h1.6v1.6h-1.6zM395.5 148.3h1.6v1.6h-1.6zM421.5 160.4h1.6v1.6h-1.6zM408.9 124.0h1.6v1.6h-1.6zM347.9 144.2h1.6v1.6h-1.6zM360.5 168.0h1.6v1.6h-1.6zM416.1 151.4h1.6v1.6h-1.6zM382.2 124.5h1.6v1.6h-1.6zM371.4 139.1h1.6v1.6h-1.6zM427.6 174.4h1.6v1.6h-1.6zM389.0 174.8h1.6v1.6h-1.6zM377.1 186.1h1.6v1.6h-1.6zM354.2 163.2h1.6v1.6h-1.6zM368.7 177.4h1.6v1.6h-1.6zM364.1 179.2h1.6v1.6h-1.6zM374.0 140.0h1.6v1.6h-1.6zM372.2 192.6h1.6v1.6h-1.6zM366.1 182.4h1.6v1.6h-1.6zM363.3 175.0h1.6v1.6h-1.6zM374.4 188.0h1.6v1.6h-1.6zM370.1 181.8h1.6v1.6h-1.6zM374.2 156.7h1.6v1.6h-1.6zM373.1 177.6h1.6v1.6h-1.6zM356.3 150.8h1.6v1.6h-1.6zM352.6 182.3h1.6v1.6h-1.6zM439.3 147.4h1.6v1.6h-1.6zM376.3 139.9h1.6v1.6h-1.6zM371.9 164.6h1.6v1.6h-1.6zM352.5 139.1h1.6v1.6h-1.6zM385.7 133.1h1.6v1.6h-1.6zM355.3 167.4h1.6v1.6h-1.6zM394.8 184.7h1.6v1.6h-1.6zM377.4 176.0h1.6v1.6h-1.6zM382.3 182.1h1.6v1.6h-1.6zM413.1 174.4h1.6v1.6h-1.6zM386.3 178.4h1.6v1.6h-1.6zM380.6 134.3h1.6v1.6h-1.6zM431.5 165.9h1.6v1.6h-1.6zM365.0 166.4h1.6v1.6h-1.6zM387.2 146.0h1.6v1.6h-1.6zM368.8 154.8h1.6v1.6h-1.6zM378.0 187.4h1.6v1.6h-1.6zM354.8 149.8h1.6v1.6h-1.6zM368.8 178.1h1.6v1.6h-1.6zM346.9 175.3h1.6v1.6h-1.6zM342.3 153.0h1.6v1.6h-1.6zM380.0 189.1h1.6v1.6h-1.6zM343.8 174.1h1.6v1.6h-1.6zM394.9 162.3h1.6v1.6h-1.6zM405.3 101.5h1.6v1.6h-1.6zM374.6 179.8h1.6v1.6h-1.6zM384.3 183.3h1.6v1.6h-1.6zM384.9 190.2h1.6v1.6h-1.6zM360.2 161.2h1.6v1.6h-1.6zM428.1 193.0h1.6v1.6h-1.6zM354.9 166.6h1.6v1.6h-1.6zM364.2 175.3h1.6v1.6h-1.6zM396.7 189.5h1.6v1.6h-1.6zM359.7 156.1h1.6v1.6h-1.6zM436.2 96.4h1.6v1.6h-1.6zM431.0 160.2h1.6v1.6h-1.6zM340.6 179.6h1.6v1.6h-1.6zM369.4 133.0h1.6v1.6h-1.6zM363.6 188.8h1.6v1.6h-1.6zM365.5 185.1h1.6v1.6h-1.6zM374.6 178.8h1.6v1.6h-1.6zM371.9 189.1h1.6v1.6h-1.6zM420.7 179.5h1.6v1.6h-1.6zM356.9 168.4h1.6v1.6h-1.6zM371.6 191.6h1.6v1.6h-1.6zM389.5 151.7h1.6v1.6h-1.6zM422.5 137.7h1.6v1.6h-1.6zM403.0 179.1h1.6v1.6h-1.6zM372.0 160.3h1.6v1.6h-1.6zM343.5 182.4h1.6v1.6h-1.6zM398.8 186.7h1.6v1.6h-1.6zM349.4 182.8h1.6v1.6h-1.6zM361.9 183.7h1.6v1.6h-1.6zM386.6 140.9h1.6v1.6h-1.6zM354.9 162.9h1.6v1.6h-1.6zM387.3 158.7h1.6v1.6h-1.6zM404.3 188.7h1.6v1.6h-1.6zM359.9 155.8h1.6v1.6h-1.6zM365.0 157.2h1.6v1.6h-1.6zM374.5 123.8h1.6v1.6h-1.6zM440.5 168.2h1.6v1.6h-1.6zM365.8 189.6h1.6v1.6h-1.6zM355.1 165.8h1.6v1.6h-1.6zM364.0 166.3h1.6v1.6h-1.6zM382.6 175.1h1.6v1.6h-1.6zM358.0 148.4h1.6v1.6h-1.6zM354.1 176.0h1.6v1.6h-1.6zM346.6 153.3h1.6v1.6h-1.6zM388.3 164.6h1.6v1.6h-1.6zM386.3 182.9h1.6v1.6h-1.6zM410.5 156.2h1.6v1.6h-1.6zM353.9 184.3h1.6v1.6h-1.6zM410.6 191.5h1.6v1.6h-1.6zM377.2 180.6h1.6v1.6h-1.6zM380.8 147.3h1.6v1.6h-1.6zM341.3 192.4h1.6v1.6h-1.6zM379.0 174.7h1.6v1.6h-1.6zM364.1 173.8h1.6v1.6h-1.6zM396.8 193.1h1.6v1.6h-1.6zM377.8 176.4h1.6v1.6h-1.6zM360.2 155.8h1.6v1.6h-1.6zM353.4 158.1h1.6v1.6h-1.6zM366.3 168.3h1.6v1.6h-1.6zM379.7 181.6h1.6v1.6h-1.6zM348.1 154.1h1.6v1.6h-1.6zM426.7 136.3h1.6v1.6h-1.6zM397.4 176.6h1.6v1.6h-1.6zM378.7 140.7h1.6v1.6h-1.6zM367.9 174.8h1.6v1.6h-1.6zM407.9 180.2h1.6v1.6h-1.6zM368.9 187.0h1.6v1.6h-1.6zM366.1 110.2h1.6v1.6h-1.6zM374.0 143.8h1.6v1.6h-1.6zM377.2 178.9h1.6v1.6h-1.6zM385.5 166.4h1.6v1.6h-1.6zM398.9 98.4h1.6v1.6h-1.6zM347.6 147.4h1.6v1.6h-1.6zM366.8 179.3h1.6v1.6h-1.6zM358.2 179.3h1.6v1.6h-1.6zM347.3 161.9h1.6v1.6h-1.6zM404.0 110.3h1.6v1.6h-1.6zM366.0 173.2h1.6v1.6h-1.6zM364.1 137.7h1.6v1.6h-1.6zM360.0 177.4h1.6v1.6h-1.6zM356.1 145.2h1.6v1.6h-1.6zM404.2 178.6h1.6v1.6h-1.6zM348.9 175.8h1.6v1.6h-1.6zM410.9 115.7h1.6v1.6h-1.6zM368.0 151.8h1.6v1.6h-1.6zM374.9 151.8h1.6v1.6h-1.6zM413.0 142.9h1.6v1.6h-1.6zM389.9 130.3h1.6v1.6h-1.6zM338.2 171.3h1.6v1.6h-1.6zM367.4 156.2h1.6v1.6h-1.6zM361.8 164.2h1.6v1.6h-1.6zM425.9 163.7h1.6v1.6h-1.6zM355.4 158.1h1.6v1.6h-1.6zM375.8 151.4h1.6v1.6h-1.6zM407.0 146.6h1.6v1.6h-1.6zM365.2 153.2h1.6v1.6h-1.6zM389.4 146.9h1.6v1.6h-1.6zM461.7 119.4h1.6v1.6h-1.6zM396.1 172.7h1.6v1.6h-1.6zM362.2 171.9h1.6v1.6h-1.6zM398.4 157.5h1.6v1.6h-1.6zM391.5 179.8h1.6v1.6h-1.6zM360.5 157.1h1.6v1.6h-1.6zM426.8 130.5h1.6v1.6h-1.6zM405.7 109.9h1.6v1.6h-1.6zM359.9 171.4h1.6v1.6h-1.6zM404.5 131.5h1.6v1.6h-1.6zM351.7 152.3h1.6v1.6h-1.6zM381.3 145.4h1.6v1.6h-1.6zM442.1 108.8h1.6v1.6h-1.6zM399.0 124.3h1.6v1.6h-1.6zM431.5 167.0h1.6v1.6h-1.6zM380.1 186.3h1.6v1.6h-1.6zM374.9 139.0h1.6v1.6h-1.6zM352.4 153.4h1.6v1.6h-1.6zM347.7 174.3h1.6v1.6h-1.6zM356.8 182.8h1.6v1.6h-1.6zM363.1 154.6h1.6v1.6h-1.6zM383.2 177.4h1.6v1.6h-1.6zM351.9 162.5h1.6v1.6h-1.6zM473.6 136.6h1.6v1.6h-1.6zM397.6 152.3h1.6v1.6h-1.6zM385.6 159.3h1.6v1.6h-1.6zM365.4 127.1h1.6v1.6h-1.6zM354.7 189.5h1.6v1.6h-1.6zM441.0 167.0h1.6v1.6h-1.6zM401.7 108.0h1.6v1.6h-1.6zM364.6 182.7h1.6v1.6h-1.6zM364.4 164.5h1.6v1.6h-1.6zM387.2 136.1h1.6v1.6h-1.6zM385.0 141.2h1.6v1.6h-1.6zM420.1 179.7h1.6v1.6h-1.6zM372.9 150.7h1.6v1.6h-1.6zM367.0 156.8h1.6v1.6h-1.6zM359.4 170.5h1.6v1.6h-1.6zM363.7 153.8h1.6v1.6h-1.6zM356.0 188.0h1.6v1.6h-1.6zM358.6 163.3h1.6v1.6h-1.6zM385.3 189.6h1.6v1.6h-1.6zM409.5 148.1h1.6v1.6h-1.6zM438.6 148.0h1.6v1.6h-1.6zM424.8 161.6h1.6v1.6h-1.6zM377.0 171.7h1.6v1.6h-1.6zM375.9 181.1h1.6v1.6h-1.6zM390.4 174.8h1.6v1.6h-1.6zM363.3 151.3h1.6v1.6h-1.6zM404.5 179.1h1.6v1.6h-1.6zM390.6 191.8h1.6v1.6h-1.6zM349.9 160.9h1.6v1.6h-1.6zM400.6 149.5h1.6v1.6h-1.6zM358.1 151.9h1.6v1.6h-1.6zM391.1 122.3h1.6v1.6h-1.6zM370.6 145.3h1.6v1.6h-1.6zM380.2 156.5h1.6v1.6h-1.6zM344.6 155.5h1.6v1.6h-1.6zM415.7 122.8h1.6v1.6h-1.6zM415.9 132.5h1.6v1.6h-1.6zM375.9 153.4h1.6v1.6h-1.6zM370.3 176.5h1.6v1.6h-1.6zM353.8 156.7h1.6v1.6h-1.6zM353.3 151.5h1.6v1.6h-1.6zM369.4 153.5h1.6v1.6h-1.6zM414.2 149.7h1.6v1.6h-1.6zM362.5 157.7h1.6v1.6h-1.6zM385.6 163.2h1.6v1.6h-1.6zM387.4 138.9h1.6v1.6h-1.6zM357.1 156.5h1.6v1.6h-1.6zM393.0 142.3h1.6v1.6h-1.6zM425.6 127.8h1.6v1.6h-1.6zM419.1 152.6h1.6v1.6h-1.6zM367.0 160.3h1.6v1.6h-1.6zM437.4 183.0h1.6v1.6h-1.6zM354.1 161.5h1.6v1.6h-1.6zM447.0 92.8h1.6v1.6h-1.6zM417.4 168.8h1.6v1.6h-1.6zM362.8 156.4h1.6v1.6h-1.6zM370.7 165.5h1.6v1.6h-1.6zM401.0 144.8h1.6v1.6h-1.6zM353.4 169.7h1.6v1.6h-1.6zM401.2 159.0h1.6v1.6h-1.6zM382.4 151.6h1.6v1.6h-1.6zM384.9 170.6h1.6v1.6h-1.6zM379.7 165.8h1.6v1.6h-1.6zM363.1 162.9h1.6v1.6h-1.6zM406.9 121.8h1.6v1.6h-1.6zM391.4 162.5h1.6v1.6h-1.6zM362.6 154.3h1.6v1.6h-1.6zM354.0 179.9h1.6v1.6h-1.6zM386.3 155.5h1.6v1.6h-1.6zM356.5 163.4h1.6v1.6h-1.6zM359.0 149.6h1.6v1.6h-1.6zM421.6 154.6h1.6v1.6h-1.6zM369.0 156.6h1.6v1.6h-1.6zM380.0 161.2h1.6v1.6h-1.6zM348.9 178.8h1.6v1.6h-1.6zM343.9 154.6h1.6v1.6h-1.6zM376.0 188.5h1.6v1.6h-1.6zM341.3 186.7h1.6v1.6h-1.6zM468.3 146.6h1.6v1.6h-1.6zM374.9 123.1h1.6v1.6h-1.6zM356.7 185.8h1.6v1.6h-1.6zM406.1 160.1h1.6v1.6h-1.6zM385.2 187.7h1.6v1.6h-1.6zM383.5 164.3h1.6v1.6h-1.6zM427.7 164.7h1.6v1.6h-1.6zM396.8 166.3h1.6v1.6h-1.6zM351.4 150.9h1.6v1.6h-1.6zM380.6 174.7h1.6v1.6h-1.6zM384.9 124.7h1.6v1.6h-1.6zM348.0 148.9h1.6v1.6h-1.6zM403.4 158.7h1.6v1.6h-1.6zM382.8 109.3h1.6v1.6h-1.6zM350.5 151.6h1.6v1.6h-1.6zM410.4 153.0h1.6v1.6h-1.6zM390.5 168.5h1.6v1.6h-1.6zM425.1 176.9h1.6v1.6h-1.6zM409.5 154.8h1.6v1.6h-1.6zM379.1 132.3h1.6v1.6h-1.6zM379.2 183.8h1.6v1.6h-1.6zM410.5 153.8h1.6v1.6h-1.6zM419.0 120.4h1.6v1.6h-1.6zM353.1 131.8h1.6v1.6h-1.6zM382.7 163.3h1.6v1.6h-1.6zM390.5 183.1h1.6v1.6h-1.6zM375.6 186.1h1.6v1.6h-1.6zM388.5 188.7h1.6v1.6h-1.6zM403.4 157.6h1.6v1.6h-1.6zM389.2 135.0h1.6v1.6h-1.6zM363.3 185.8h1.6v1.6h-1.6zM380.6 154.5h1.6v1.6h-1.6zM370.5 157.3h1.6v1.6h-1.6zM380.2 175.9h1.6v1.6h-1.6zM383.2 172.8h1.6v1.6h-1.6zM353.0 135.0h1.6v1.6h-1.6zM386.6 178.8h1.6v1.6h-1.6zM473.9 139.4h1.6v1.6h-1.6zM357.6 172.2h1.6v1.6h-1.6zM381.9 179.2h1.6v1.6h-1.6zM377.6 121.7h1.6v1.6h-1.6zM405.0 169.6h1.6v1.6h-1.6zM392.5 144.4h1.6v1.6h-1.6zM406.0 134.3h1.6v1.6h-1.6zM364.3 135.6h1.6v1.6h-1.6zM395.3 122.3h1.6v1.6h-1.6zM415.8 154.7h1.6v1.6h-1.6zM422.1 154.7h1.6v1.6h-1.6zM362.1 191.3h1.6v1.6h-1.6zM382.8 157.6h1.6v1.6h-1.6zM347.9 187.3h1.6v1.6h-1.6zM346.6 191.4h1.6v1.6h-1.6zM390.9 157.1h1.6v1.6h-1.6zM385.6 123.3h1.6v1.6h-1.6zM386.9 173.7h1.6v1.6h-1.6zM365.3 186.8h1.6v1.6h-1.6zM396.0 144.9h1.6v1.6h-1.6zM441.9 126.1h1.6v1.6h-1.6zM398.8 183.5h1.6v1.6h-1.6zM393.3 169.8h1.6v1.6h-1.6zM352.5 184.4h1.6v1.6h-1.6zM396.5 175.9h1.6v1.6h-1.6zM433.3 147.3h1.6v1.6h-1.6zM355.7 183.9h1.6v1.6h-1.6zM370.7 166.2h1.6v1.6h-1.6zM443.2 146.6h1.6v1.6h-1.6zM424.0 176.2h1.6v1.6h-1.6zM395.3 182.1h1.6v1.6h-1.6zM384.2 183.9h1.6v1.6h-1.6zM368.4 175.7h1.6v1.6h-1.6zM374.7 181.4h1.6v1.6h-1.6zM437.6 167.9h1.6v1.6h-1.6zM375.6 136.2h1.6v1.6h-1.6zM414.6 131.1h1.6v1.6h-1.6zM387.9 166.1h1.6v1.6h-1.6zM395.1 139.6h1.6v1.6h-1.6zM364.8 171.7h1.6v1.6h-1.6zM402.0 159.7h1.6v1.6h-1.6zM343.3 164.4h1.6v1.6h-1.6zM362.9 153.2h1.6v1.6h-1.6zM372.4 187.6h1.6v1.6h-1.6zM397.1 148.2h1.6v1.6h-1.6zM349.7 126.8h1.6v1.6h-1.6zM462.6 120.1h1.6v1.6h-1.6zM369.9 148.9h1.6v1.6h-1.6zM388.8 134.5h1.6v1.6h-1.6zM374.5 158.3h1.6v1.6h-1.6zM416.4 112.0h1.6v1.6h-1.6zM398.4 157.6h1.6v1.6h-1.6zM412.0 143.6h1.6v1.6h-1.6zM386.0 98.4h1.6v1.6h-1.6zM395.7 157.0h1.6v1.6h-1.6zM480.4 119.9h1.6v1.6h-1.6zM403.8 123.4h1.6v1.6h-1.6zM375.8 188.4h1.6v1.6h-1.6zM430.5 148.0h1.6v1.6h-1.6zM388.9 168.0h1.6v1.6h-1.6zM386.8 180.2h1.6v1.6h-1.6zM365.6 165.6h1.6v1.6h-1.6zM370.0 181.6h1.6v1.6h-1.6zM390.3 184.2h1.6v1.6h-1.6zM379.2 176.8h1.6v1.6h-1.6zM341.1 167.2h1.6v1.6h-1.6zM409.4 140.2h1.6v1.6h-1.6zM373.5 172.4h1.6v1.6h-1.6zM386.0 156.1h1.6v1.6h-1.6zM423.2 186.2h1.6v1.6h-1.6zM370.8 172.7h1.6v1.6h-1.6zM362.9 180.4h1.6v1.6h-1.6zM399.7 107.7h1.6v1.6h-1.6zM388.0 174.7h1.6v1.6h-1.6zM397.5 138.4h1.6v1.6h-1.6zM350.5 176.5h1.6v1.6h-1.6zM351.8 158.6h1.6v1.6h-1.6zM358.5 185.1h1.6v1.6h-1.6zM362.5 189.7h1.6v1.6h-1.6zM354.6 181.5h1.6v1.6h-1.6zM445.7 113.5h1.6v1.6h-1.6zM359.5 175.8h1.6v1.6h-1.6zM351.9 188.0h1.6v1.6h-1.6zM389.4 150.3h1.6v1.6h-1.6zM375.1 170.9h1.6v1.6h-1.6zM401.8 176.6h1.6v1.6h-1.6zM359.3 157.1h1.6v1.6h-1.6zM352.7 141.9h1.6v1.6h-1.6zM395.1 149.1h1.6v1.6h-1.6zM386.4 175.6h1.6v1.6h-1.6zM376.1 156.3h1.6v1.6h-1.6zM362.3 181.2h1.6v1.6h-1.6zM390.8 181.5h1.6v1.6h-1.6zM369.0 142.2h1.6v1.6h-1.6zM378.6 181.1h1.6v1.6h-1.6zM366.2 188.9h1.6v1.6h-1.6zM363.5 166.9h1.6v1.6h-1.6zM410.2 188.1h1.6v1.6h-1.6zM364.2 159.9h1.6v1.6h-1.6zM371.8 156.6h1.6v1.6h-1.6zM410.1 101.0h1.6v1.6h-1.6zM362.1 164.3h1.6v1.6h-1.6zM438.0 189.1h1.6v1.6h-1.6zM392.1 178.4h1.6v1.6h-1.6zM353.3 183.7h1.6v1.6h-1.6zM374.7 164.8h1.6v1.6h-1.6zM361.3 184.0h1.6v1.6h-1.6zM368.6 181.3h1.6v1.6h-1.6zM424.0 167.7h1.6v1.6h-1.6zM345.4 182.2h1.6v1.6h-1.6zM389.7 153.3h1.6v1.6h-1.6zM359.7 166.1h1.6v1.6h-1.6zM356.8 158.0h1.6v1.6h-1.6zM347.4 157.5h1.6v1.6h-1.6zM415.7 169.4h1.6v1.6h-1.6zM368.6 183.2h1.6v1.6h-1.6zM393.0 138.6h1.6v1.6h-1.6zM405.5 140.3h1.6v1.6h-1.6zM382.7 174.7h1.6v1.6h-1.6zM371.5 174.2h1.6v1.6h-1.6zM351.1 153.7h1.6v1.6h-1.6zM378.7 183.2h1.6v1.6h-1.6zM461.7 140.8h1.6v1.6h-1.6zM354.8 161.4h1.6v1.6h-1.6zM346.0 177.6h1.6v1.6h-1.6zM369.7 140.2h1.6v1.6h-1.6zM409.7 148.4h1.6v1.6h-1.6zM413.0 136.6h1.6v1.6h-1.6zM428.5 149.2h1.6v1.6h-1.6zM400.8 151.8h1.6v1.6h-1.6zM370.6 151.8h1.6v1.6h-1.6zM396.4 162.9h1.6v1.6h-1.6zM376.2 181.0h1.6v1.6h-1.6zM420.6 123.7h1.6v1.6h-1.6zM355.7 186.5h1.6v1.6h-1.6zM349.7 162.0h1.6v1.6h-1.6zM389.0 109.8h1.6v1.6h-1.6zM342.2 172.7h1.6v1.6h-1.6zM387.8 144.1h1.6v1.6h-1.6zM411.9 144.0h1.6v1.6h-1.6zM388.2 162.3h1.6v1.6h-1.6zM378.2 166.7h1.6v1.6h-1.6zM393.7 164.5h1.6v1.6h-1.6zM377.9 145.1h1.6v1.6h-1.6zM371.5 184.6h1.6v1.6h-1.6zM355.0 168.0h1.6v1.6h-1.6zM429.7 170.9h1.6v1.6h-1.6zM397.7 167.1h1.6v1.6h-1.6zM384.1 159.3h1.6v1.6h-1.6zM367.2 156.4h1.6v1.6h-1.6zM425.9 111.3h1.6v1.6h-1.6zM356.6 171.4h1.6v1.6h-1.6zM455.8 154.5h1.6v1.6h-1.6zM413.4 149.7h1.6v1.6h-1.6zM353.5 171.2h1.6v1.6h-1.6zM364.6 143.1h1.6v1.6h-1.6zM390.4 158.0h1.6v1.6h-1.6zM364.2 161.9h1.6v1.6h-1.6zM355.5 173.5h1.6v1.6h-1.6zM374.0 162.8h1.6v1.6h-1.6zM356.1 161.4h1.6v1.6h-1.6zM364.1 170.8h1.6v1.6h-1.6zM476.5 115.5h1.6v1.6h-1.6zM395.8 133.1h1.6v1.6h-1.6zM372.3 180.1h1.6v1.6h-1.6zM396.7 164.1h1.6v1.6h-1.6zM359.8 152.2h1.6v1.6h-1.6zM390.0 181.6h1.6v1.6h-1.6zM405.7 183.3h1.6v1.6h-1.6zM378.2 180.8h1.6v1.6h-1.6zM399.9 129.1h1.6v1.6h-1.6zM383.2 150.3h1.6v1.6h-1.6zM349.3 150.4h1.6v1.6h-1.6zM363.7 141.5h1.6v1.6h-1.6zM409.4 182.4h1.6v1.6h-1.6zM371.0 164.8h1.6v1.6h-1.6zM400.2 123.0h1.6v1.6h-1.6zM375.6 114.0h1.6v1.6h-1.6zM366.4 167.5h1.6v1.6h-1.6zM432.7 173.4h1.6v1.6h-1.6zM370.2 167.9h1.6v1.6h-1.6zM382.2 172.7h1.6v1.6h-1.6zM343.2 188.3h1.6v1.6h-1.6zM364.3 164.0h1.6v1.6h-1.6zM340.3 167.9h1.6v1.6h-1.6zM404.9 155.9h1.6v1.6h-1.6zM375.4 181.9h1.6v1.6h-1.6zM403.9 179.1h1.6v1.6h-1.6zM438.1 188.2h1.6v1.6h-1.6zM405.7 133.7h1.6v1.6h-1.6zM355.6 168.1h1.6v1.6h-1.6zM341.5 137.6h1.6v1.6h-1.6zM388.3 173.2h1.6v1.6h-1.6zM445.9 118.2h1.6v1.6h-1.6zM395.8 137.7h1.6v1.6h-1.6zM359.9 179.3h1.6v1.6h-1.6zM398.3 145.1h1.6v1.6h-1.6zM417.0 163.9h1.6v1.6h-1.6zM393.8 187.2h1.6v1.6h-1.6zM360.0 179.6h1.6v1.6h-1.6zM372.3 187.1h1.6v1.6h-1.6zM379.6 126.8h1.6v1.6h-1.6zM366.0 184.0h1.6v1.6h-1.6zM353.3 176.6h1.6v1.6h-1.6zM362.5 179.7h1.6v1.6h-1.6zM360.3 158.8h1.6v1.6h-1.6zM384.3 115.3h1.6v1.6h-1.6zM368.9 171.3h1.6v1.6h-1.6zM385.4 188.3h1.6v1.6h-1.6zM374.3 168.1h1.6v1.6h-1.6zM395.0 148.5h1.6v1.6h-1.6zM373.3 173.1h1.6v1.6h-1.6zM345.8 183.6h1.6v1.6h-1.6zM438.0 137.1h1.6v1.6h-1.6zM389.3 174.7h1.6v1.6h-1.6zM364.4 188.2h1.6v1.6h-1.6zM374.8 156.5h1.6v1.6h-1.6zM396.2 155.3h1.6v1.6h-1.6zM348.2 176.9h1.6v1.6h-1.6zM367.1 150.6h1.6v1.6h-1.6zM403.6 150.3h1.6v1.6h-1.6zM406.4 161.1h1.6v1.6h-1.6zM397.1 167.7h1.6v1.6h-1.6zM351.8 173.1h1.6v1.6h-1.6zM409.3 128.4h1.6v1.6h-1.6zM368.7 151.9h1.6v1.6h-1.6zM394.7 168.6h1.6v1.6h-1.6zM352.6 170.4h1.6v1.6h-1.6zM344.6 166.8h1.6v1.6h-1.6zM383.4 123.3h1.6v1.6h-1.6zM429.7 116.1h1.6v1.6h-1.6zM360.3 179.8h1.6v1.6h-1.6zM348.4 187.0h1.6v1.6h-1.6zM386.0 166.3h1.6v1.6h-1.6zM383.2 166.1h1.6v1.6h-1.6zM346.6 169.8h1.6v1.6h-1.6zM426.6 168.9h1.6v1.6h-1.6zM422.1 143.2h1.6v1.6h-1.6zM379.7 180.5h1.6v1.6h-1.6zM365.9 159.6h1.6v1.6h-1.6zM385.6 171.1h1.6v1.6h-1.6zM365.2 184.6h1.6v1.6h-1.6zM394.0 154.4h1.6v1.6h-1.6zM379.2 168.6h1.6v1.6h-1.6zM348.3 136.1h1.6v1.6h-1.6zM398.2 138.7h1.6v1.6h-1.6zM351.0 139.4h1.6v1.6h-1.6zM395.7 163.4h1.6v1.6h-1.6zM405.0 183.2h1.6v1.6h-1.6zM349.1 161.2h1.6v1.6h-1.6zM390.1 177.7h1.6v1.6h-1.6zM350.4 153.4h1.6v1.6h-1.6zM386.5 146.1h1.6v1.6h-1.6zM389.5 137.5h1.6v1.6h-1.6zM369.0 174.1h1.6v1.6h-1.6zM349.1 116.7h1.6v1.6h-1.6zM402.1 117.0h1.6v1.6h-1.6zM364.0 189.1h1.6v1.6h-1.6zM388.6 193.0h1.6v1.6h-1.6zM410.6 155.0h1.6v1.6h-1.6zM360.2 182.5h1.6v1.6h-1.6zM371.7 158.3h1.6v1.6h-1.6zM353.2 184.9h1.6v1.6h-1.6zM389.2 131.5h1.6v1.6h-1.6zM414.8 125.6h1.6v1.6h-1.6zM367.6 184.4h1.6v1.6h-1.6zM447.6 143.7h1.6v1.6h-1.6zM354.0 191.4h1.6v1.6h-1.6zM357.8 184.4h1.6v1.6h-1.6zM343.1 168.4h1.6v1.6h-1.6zM386.0 188.5h1.6v1.6h-1.6zM369.6 175.2h1.6v1.6h-1.6zM346.1 184.6h1.6v1.6h-1.6zM364.5 145.9h1.6v1.6h-1.6zM390.3 128.1h1.6v1.6h-1.6zM375.0 163.8h1.6v1.6h-1.6zM394.0 186.5h1.6v1.6h-1.6zM460.1 176.2h1.6v1.6h-1.6zM368.6 148.5h1.6v1.6h-1.6zM349.3 182.2h1.6v1.6h-1.6zM461.2 117.4h1.6v1.6h-1.6zM414.1 178.2h1.6v1.6h-1.6zM384.5 148.4h1.6v1.6h-1.6zM396.3 141.6h1.6v1.6h-1.6zM446.3 185.4h1.6v1.6h-1.6zM375.5 141.1h1.6v1.6h-1.6zM350.2 171.1h1.6v1.6h-1.6zM338.9 188.3h1.6v1.6h-1.6zM386.3 112.1h1.6v1.6h-1.6zM397.2 116.1h1.6v1.6h-1.6zM363.1 165.8h1.6v1.6h-1.6zM368.3 161.3h1.6v1.6h-1.6zM393.6 190.7h1.6v1.6h-1.6zM373.9 185.7h1.6v1.6h-1.6zM395.0 171.2h1.6v1.6h-1.6zM444.3 113.3h1.6v1.6h-1.6zM415.3 144.8h1.6v1.6h-1.6zM405.7 170.0h1.6v1.6h-1.6zM416.0 163.3h1.6v1.6h-1.6zM368.4 171.9h1.6v1.6h-1.6zM412.9 139.5h1.6v1.6h-1.6zM364.3 156.0h1.6v1.6h-1.6zM442.2 133.1h1.6v1.6h-1.6zM353.7 174.2h1.6v1.6h-1.6zM370.1 169.1h1.6v1.6h-1.6zM377.5 120.5h1.6v1.6h-1.6zM410.6 153.2h1.6v1.6h-1.6zM416.8 190.9h1.6v1.6h-1.6zM402.8 143.5h1.6v1.6h-1.6zM360.9 162.8h1.6v1.6h-1.6zM398.0 142.4h1.6v1.6h-1.6zM368.6 174.6h1.6v1.6h-1.6zM393.3 164.7h1.6v1.6h-1.6zM375.1 181.0h1.6v1.6h-1.6zM433.0 127.8h1.6v1.6h-1.6zM365.0 161.1h1.6v1.6h-1.6zM367.8 176.2h1.6v1.6h-1.6zM387.2 151.2h1.6v1.6h-1.6zM383.0 180.3h1.6v1.6h-1.6zM366.1 158.0h1.6v1.6h-1.6zM375.1 171.4h1.6v1.6h-1.6zM349.8 160.3h1.6v1.6h-1.6zM368.4 174.9h1.6v1.6h-1.6zM371.0 183.0h1.6v1.6h-1.6zM375.0 162.8h1.6v1.6h-1.6zM356.8 164.6h1.6v1.6h-1.6zM358.8 178.0h1.6v1.6h-1.6zM407.4 181.7h1.6v1.6h-1.6zM340.6 188.4h1.6v1.6h-1.6zM359.6 179.8h1.6v1.6h-1.6zM402.8 165.1h1.6v1.6h-1.6zM435.2 146.7h1.6v1.6h-1.6zM341.7 188.8h1.6v1.6h-1.6zM431.7 106.2h1.6v1.6h-1.6zM359.7 152.0h1.6v1.6h-1.6zM372.2 166.8h1.6v1.6h-1.6zM369.4 188.4h1.6v1.6h-1.6zM401.6 166.1h1.6v1.6h-1.6zM368.5 186.6h1.6v1.6h-1.6zM417.3 150.3h1.6v1.6h-1.6zM376.1 144.4h1.6v1.6h-1.6zM391.5 193.0h1.6v1.6h-1.6zM403.5 148.9h1.6v1.6h-1.6zM393.3 178.1h1.6v1.6h-1.6zM377.2 168.2h1.6v1.6h-1.6zM362.0 189.6h1.6v1.6h-1.6zM358.4 188.2h1.6v1.6h-1.6zM345.6 185.8h1.6v1.6h-1.6zM409.6 163.3h1.6v1.6h-1.6zM387.0 153.4h1.6v1.6h-1.6zM362.5 184.1h1.6v1.6h-1.6zM376.4 170.7h1.6v1.6h-1.6zM387.0 161.2h1.6v1.6h-1.6zM376.5 187.5h1.6v1.6h-1.6zM367.8 192.1h1.6v1.6h-1.6zM355.8 126.6h1.6v1.6h-1.6zM382.7 123.3h1.6v1.6h-1.6zM375.2 190.1h1.6v1.6h-1.6zM440.7 155.4h1.6v1.6h-1.6zM365.2 173.2h1.6v1.6h-1.6zM369.7 164.4h1.6v1.6h-1.6zM432.9 166.8h1.6v1.6h-1.6zM401.8 190.7h1.6v1.6h-1.6zM354.2 135.1h1.6v1.6h-1.6zM396.4 137.8h1.6v1.6h-1.6zM368.8 174.2h1.6v1.6h-1.6zM404.8 147.4h1.6v1.6h-1.6zM392.7 177.5h1.6v1.6h-1.6zM363.3 177.0h1.6v1.6h-1.6zM377.6 159.5h1.6v1.6h-1.6zM395.3 167.1h1.6v1.6h-1.6zM362.4 167.9h1.6v1.6h-1.6zM383.7 174.4h1.6v1.6h-1.6zM392.3 166.0h1.6v1.6h-1.6zM382.1 147.5h1.6v1.6h-1.6zM378.5 162.7h1.6v1.6h-1.6zM421.6 181.0h1.6v1.6h-1.6zM359.9 179.0h1.6v1.6h-1.6zM367.1 147.2h1.6v1.6h-1.6zM368.2 184.5h1.6v1.6h-1.6zM356.1 141.9h1.6v1.6h-1.6zM364.1 187.2h1.6v1.6h-1.6zM430.0 151.6h1.6v1.6h-1.6zM419.2 169.8h1.6v1.6h-1.6zM380.8 170.6h1.6v1.6h-1.6zM390.2 159.3h1.6v1.6h-1.6zM381.0 162.6h1.6v1.6h-1.6zM389.0 138.9h1.6v1.6h-1.6zM394.6 148.4h1.6v1.6h-1.6zM382.4 153.4h1.6v1.6h-1.6zM376.8 180.6h1.6v1.6h-1.6zM355.5 99.9h1.6v1.6h-1.6zM383.6 110.9h1.6v1.6h-1.6zM377.2 153.5h1.6v1.6h-1.6zM424.2 132.4h1.6v1.6h-1.6zM356.6 159.4h1.6v1.6h-1.6zM354.5 133.8h1.6v1.6h-1.6zM391.5 179.3h1.6v1.6h-1.6zM353.6 190.2h1.6v1.6h-1.6zM354.5 127.8h1.6v1.6h-1.6zM351.7 178.9h1.6v1.6h-1.6zM377.5 178.5h1.6v1.6h-1.6zM375.0 172.5h1.6v1.6h-1.6zM402.2 166.5h1.6v1.6h-1.6zM442.6 154.1h1.6v1.6h-1.6zM357.1 168.1h1.6v1.6h-1.6zM368.9 161.2h1.6v1.6h-1.6zM473.4 136.4h1.6v1.6h-1.6zM417.7 123.3h1.6v1.6h-1.6zM408.0 157.8h1.6v1.6h-1.6zM355.1 173.4h1.6v1.6h-1.6zM351.5 181.6h1.6v1.6h-1.6zM410.1 170.8h1.6v1.6h-1.6zM442.5 182.2h1.6v1.6h-1.6zM365.3 179.9h1.6v1.6h-1.6zM372.6 186.9h1.6v1.6h-1.6zM365.2 126.7h1.6v1.6h-1.6zM384.4 184.7h1.6v1.6h-1.6zM378.4 121.8h1.6v1.6h-1.6zM383.2 134.9h1.6v1.6h-1.6zM389.2 187.1h1.6v1.6h-1.6zM368.8 143.8h1.6v1.6h-1.6zM418.6 159.2h1.6v1.6h-1.6zM386.7 166.9h1.6v1.6h-1.6zM358.1 192.7h1.6v1.6h-1.6zM424.5 186.0h1.6v1.6h-1.6zM373.0 188.6h1.6v1.6h-1.6zM403.0 189.8h1.6v1.6h-1.6zM439.1 153.3h1.6v1.6h-1.6zM439.2 95.6h1.6v1.6h-1.6zM375.8 131.9h1.6v1.6h-1.6zM371.2 180.8h1.6v1.6h-1.6zM367.7 177.1h1.6v1.6h-1.6zM389.7 155.6h1.6v1.6h-1.6zM391.6 131.1h1.6v1.6h-1.6zM343.7 184.0h1.6v1.6h-1.6zM423.5 163.9h1.6v1.6h-1.6zM379.7 143.4h1.6v1.6h-1.6zM343.0 120.8h1.6v1.6h-1.6zM364.9 159.7h1.6v1.6h-1.6zM354.6 189.5h1.6v1.6h-1.6zM365.1 178.3h1.6v1.6h-1.6zM352.8 153.9h1.6v1.6h-1.6zM363.0 181.4h1.6v1.6h-1.6zM366.1 183.0h1.6v1.6h-1.6zM360.2 176.5h1.6v1.6h-1.6zM379.7 184.7h1.6v1.6h-1.6zM408.8 170.4h1.6v1.6h-1.6zM369.6 192.4h1.6v1.6h-1.6zM380.6 136.9h1.6v1.6h-1.6zM378.6 180.5h1.6v1.6h-1.6zM419.7 100.3h1.6v1.6h-1.6zM379.9 164.6h1.6v1.6h-1.6zM364.7 165.3h1.6v1.6h-1.6zM351.5 171.9h1.6v1.6h-1.6zM439.9 104.1h1.6v1.6h-1.6zM419.4 126.8h1.6v1.6h-1.6zM430.8 130.4h1.6v1.6h-1.6zM373.0 156.7h1.6v1.6h-1.6zM382.4 190.4h1.6v1.6h-1.6zM355.5 189.9h1.6v1.6h-1.6zM363.4 180.4h1.6v1.6h-1.6zM417.1 155.6h1.6v1.6h-1.6zM362.5 174.8h1.6v1.6h-1.6zM350.8 188.5h1.6v1.6h-1.6zM376.8 188.2h1.6v1.6h-1.6zM390.0 146.3h1.6v1.6h-1.6zM354.8 170.8h1.6v1.6h-1.6zM421.3 178.5h1.6v1.6h-1.6zM348.6 176.4h1.6v1.6h-1.6zM350.7 178.2h1.6v1.6h-1.6zM363.6 180.8h1.6v1.6h-1.6zM389.1 186.9h1.6v1.6h-1.6zM368.3 135.4h1.6v1.6h-1.6zM378.6 185.0h1.6v1.6h-1.6zM367.0 171.6h1.6v1.6h-1.6zM391.3 150.5h1.6v1.6h-1.6zM356.7 185.3h1.6v1.6h-1.6zM416.5 173.3h1.6v1.6h-1.6zM358.4 158.4h1.6v1.6h-1.6zM374.8 150.1h1.6v1.6h-1.6zM374.7 146.3h1.6v1.6h-1.6zM398.2 184.2h1.6v1.6h-1.6zM366.0 190.4h1.6v1.6h-1.6zM344.1 165.9h1.6v1.6h-1.6zM401.9 171.2h1.6v1.6h-1.6zM415.2 190.5h1.6v1.6h-1.6zM430.5 168.6h1.6v1.6h-1.6zM346.4 175.9h1.6v1.6h-1.6zM453.5 109.9h1.6v1.6h-1.6zM407.2 159.8h1.6v1.6h-1.6zM391.4 177.8h1.6v1.6h-1.6zM397.8 137.1h1.6v1.6h-1.6zM364.9 150.8h1.6v1.6h-1.6zM442.3 107.0h1.6v1.6h-1.6zM371.0 181.6h1.6v1.6h-1.6zM446.5 138.4h1.6v1.6h-1.6zM359.5 178.4h1.6v1.6h-1.6zM350.5 172.2h1.6v1.6h-1.6zM410.2 128.7h1.6v1.6h-1.6zM380.6 165.2h1.6v1.6h-1.6zM364.8 150.2h1.6v1.6h-1.6zM358.5 172.0h1.6v1.6h-1.6zM362.8 164.3h1.6v1.6h-1.6zM420.4 174.9h1.6v1.6h-1.6zM391.2 180.7h1.6v1.6h-1.6zM383.2 149.6h1.6v1.6h-1.6zM363.4 186.4h1.6v1.6h-1.6zM365.2 146.8h1.6v1.6h-1.6zM359.9 155.6h1.6v1.6h-1.6zM360.7 143.0h1.6v1.6h-1.6zM397.9 144.2h1.6v1.6h-1.6zM372.2 172.3h1.6v1.6h-1.6zM340.1 189.1h1.6v1.6h-1.6zM389.0 188.2h1.6v1.6h-1.6zM397.5 186.9h1.6v1.6h-1.6zM377.0 156.5h1.6v1.6h-1.6zM371.7 169.2h1.6v1.6h-1.6zM465.0 116.7h1.6v1.6h-1.6zM356.5 187.9h1.6v1.6h-1.6zM400.7 157.1h1.6v1.6h-1.6zM444.4 100.0h1.6v1.6h-1.6zM410.1 154.3h1.6v1.6h-1.6zM374.4 152.5h1.6v1.6h-1.6zM444.4 148.8h1.6v1.6h-1.6zM361.9 113.2h1.6v1.6h-1.6zM344.1 176.3h1.6v1.6h-1.6zM402.2 148.5h1.6v1.6h-1.6zM373.4 170.6h1.6v1.6h-1.6zM421.2 185.4h1.6v1.6h-1.6zM385.7 178.5h1.6v1.6h-1.6zM372.7 175.6h1.6v1.6h-1.6zM366.8 165.7h1.6v1.6h-1.6zM398.9 136.4h1.6v1.6h-1.6zM388.5 190.1h1.6v1.6h-1.6zM413.9 178.3h1.6v1.6h-1.6zM353.7 118.6h1.6v1.6h-1.6zM455.2 123.5h1.6v1.6h-1.6zM373.0 180.2h1.6v1.6h-1.6zM359.2 157.1h1.6v1.6h-1.6zM391.2 105.0h1.6v1.6h-1.6zM389.8 137.2h1.6v1.6h-1.6zM401.1 175.7h1.6v1.6h-1.6zM400.4 174.3h1.6v1.6h-1.6zM443.0 154.4h1.6v1.6h-1.6zM384.9 163.0h1.6v1.6h-1.6zM347.0 190.2h1.6v1.6h-1.6zM378.1 157.6h1.6v1.6h-1.6zM422.5 139.8h1.6v1.6h-1.6zM359.6 187.0h1.6v1.6h-1.6zM415.3 171.2h1.6v1.6h-1.6zM407.7 181.9h1.6v1.6h-1.6zM374.0 187.4h1.6v1.6h-1.6zM348.9 114.4h1.6v1.6h-1.6zM366.6 161.9h1.6v1.6h-1.6zM399.6 170.6h1.6v1.6h-1.6zM366.9 182.9h1.6v1.6h-1.6zM375.4 180.7h1.6v1.6h-1.6zM396.1 161.7h1.6v1.6h-1.6zM405.7 162.7h1.6v1.6h-1.6zM384.2 144.1h1.6v1.6h-1.6zM353.5 164.9h1.6v1.6h-1.6zM368.8 171.9h1.6v1.6h-1.6zM347.3 154.0h1.6v1.6h-1.6zM391.9 162.8h1.6v1.6h-1.6zM386.5 173.6h1.6v1.6h-1.6zM388.9 159.4h1.6v1.6h-1.6zM393.5 138.0h1.6v1.6h-1.6zM363.7 161.5h1.6v1.6h-1.6zM402.2 130.9h1.6v1.6h-1.6zM398.4 179.2h1.6v1.6h-1.6zM387.8 161.6h1.6v1.6h-1.6zM402.9 125.0h1.6v1.6h-1.6zM376.1 168.0h1.6v1.6h-1.6zM373.6 141.0h1.6v1.6h-1.6zM351.6 171.2h1.6v1.6h-1.6zM382.8 170.1h1.6v1.6h-1.6zM381.7 187.2h1.6v1.6h-1.6zM414.0 193.0h1.6v1.6h-1.6zM385.1 175.3h1.6v1.6h-1.6zM350.9 192.6h1.6v1.6h-1.6zM375.5 146.5h1.6v1.6h-1.6zM394.3 127.4h1.6v1.6h-1.6zM377.2 175.4h1.6v1.6h-1.6zM363.4 150.0h1.6v1.6h-1.6zM378.9 165.8h1.6v1.6h-1.6zM353.8 153.9h1.6v1.6h-1.6zM357.4 183.1h1.6v1.6h-1.6zM408.8 169.9h1.6v1.6h-1.6zM379.4 160.3h1.6v1.6h-1.6zM376.2 170.3h1.6v1.6h-1.6zM362.7 164.6h1.6v1.6h-1.6zM415.4 190.3h1.6v1.6h-1.6zM378.7 133.8h1.6v1.6h-1.6zM465.1 132.6h1.6v1.6h-1.6zM355.8 180.2h1.6v1.6h-1.6zM415.7 126.5h1.6v1.6h-1.6zM394.2 162.9h1.6v1.6h-1.6zM353.1 176.0h1.6v1.6h-1.6zM394.6 173.0h1.6v1.6h-1.6zM405.2 142.1h1.6v1.6h-1.6zM435.6 105.5h1.6v1.6h-1.6zM399.0 172.6h1.6v1.6h-1.6zM367.2 188.9h1.6v1.6h-1.6zM441.6 131.5h1.6v1.6h-1.6zM385.6 129.3h1.6v1.6h-1.6zM355.5 169.7h1.6v1.6h-1.6zM383.8 180.0h1.6v1.6h-1.6zM378.7 185.0h1.6v1.6h-1.6zM391.1 146.6h1.6v1.6h-1.6zM388.9 192.7h1.6v1.6h-1.6zM365.1 163.7h1.6v1.6h-1.6zM384.5 173.4h1.6v1.6h-1.6zM450.1 147.3h1.6v1.6h-1.6zM408.6 164.4h1.6v1.6h-1.6zM422.1 140.0h1.6v1.6h-1.6zM396.0 177.3h1.6v1.6h-1.6zM371.1 157.9h1.6v1.6h-1.6zM362.5 172.1h1.6v1.6h-1.6zM350.1 148.3h1.6v1.6h-1.6zM373.9 142.5h1.6v1.6h-1.6zM384.2 148.8h1.6v1.6h-1.6zM360.8 190.2h1.6v1.6h-1.6zM345.6 188.8h1.6v1.6h-1.6zM343.5 113.2h1.6v1.6h-1.6zM428.7 156.7h1.6v1.6h-1.6zM436.2 131.2h1.6v1.6h-1.6zM405.5 124.1h1.6v1.6h-1.6zM390.1 192.9h1.6v1.6h-1.6zM475.0 155.2h1.6v1.6h-1.6zM378.4 190.1h1.6v1.6h-1.6zM364.7 146.3h1.6v1.6h-1.6zM347.9 170.6h1.6v1.6h-1.6zM383.1 172.3h1.6v1.6h-1.6zM410.4 158.8h1.6v1.6h-1.6zM349.1 170.7h1.6v1.6h-1.6zM437.0 134.4h1.6v1.6h-1.6zM413.8 188.2h1.6v1.6h-1.6zM348.5 184.8h1.6v1.6h-1.6zM365.3 187.6h1.6v1.6h-1.6zM455.9 151.4h1.6v1.6h-1.6zM386.4 158.7h1.6v1.6h-1.6zM372.1 168.5h1.6v1.6h-1.6zM405.2 153.1h1.6v1.6h-1.6zM368.2 185.8h1.6v1.6h-1.6zM344.3 135.4h1.6v1.6h-1.6zM463.6 99.5h1.6v1.6h-1.6zM392.1 158.8h1.6v1.6h-1.6zM416.8 154.4h1.6v1.6h-1.6zM384.4 186.8h1.6v1.6h-1.6zM383.3 179.2h1.6v1.6h-1.6zM367.7 184.0h1.6v1.6h-1.6zM369.5 156.5h1.6v1.6h-1.6zM345.3 160.8h1.6v1.6h-1.6zM376.8 168.7h1.6v1.6h-1.6zM350.7 186.2h1.6v1.6h-1.6zM360.1 172.8h1.6v1.6h-1.6zM361.2 163.2h1.6v1.6h-1.6zM438.9 121.0h1.6v1.6h-1.6zM366.9 131.1h1.6v1.6h-1.6zM369.8 179.1h1.6v1.6h-1.6zM389.7 145.6h1.6v1.6h-1.6zM411.5 162.6h1.6v1.6h-1.6zM393.5 128.9h1.6v1.6h-1.6zM344.2 127.2h1.6v1.6h-1.6zM411.4 143.8h1.6v1.6h-1.6zM373.3 177.1h1.6v1.6h-1.6zM422.9 147.6h1.6v1.6h-1.6zM404.7 131.8h1.6v1.6h-1.6zM373.6 151.1h1.6v1.6h-1.6zM405.8 123.5h1.6v1.6h-1.6zM375.2 190.9h1.6v1.6h-1.6zM435.2 162.6h1.6v1.6h-1.6zM376.7 136.6h1.6v1.6h-1.6zM388.6 168.6h1.6v1.6h-1.6zM396.3 141.0h1.6v1.6h-1.6zM374.8 135.1h1.6v1.6h-1.6zM376.0 131.1h1.6v1.6h-1.6zM376.7 189.0h1.6v1.6h-1.6zM412.7 117.4h1.6v1.6h-1.6zM379.1 168.5h1.6v1.6h-1.6zM409.7 153.0h1.6v1.6h-1.6zM382.4 179.9h1.6v1.6h-1.6zM365.8 173.3h1.6v1.6h-1.6zM447.6 153.8h1.6v1.6h-1.6zM372.9 181.9h1.6v1.6h-1.6zM380.3 192.6h1.6v1.6h-1.6zM408.1 152.0h1.6v1.6h-1.6zM368.7 177.8h1.6v1.6h-1.6zM382.0 180.9h1.6v1.6h-1.6zM360.9 189.7h1.6v1.6h-1.6zM388.5 176.7h1.6v1.6h-1.6zM340.9 145.4h1.6v1.6h-1.6zM359.9 184.8h1.6v1.6h-1.6zM370.2 187.7h1.6v1.6h-1.6zM364.7 163.6h1.6v1.6h-1.6zM408.3 166.0h1.6v1.6h-1.6zM398.2 169.6h1.6v1.6h-1.6zM381.9 169.0h1.6v1.6h-1.6zM428.9 139.2h1.6v1.6h-1.6zM361.3 171.5h1.6v1.6h-1.6zM373.0 155.6h1.6v1.6h-1.6zM421.5 122.8h1.6v1.6h-1.6zM446.1 105.1h1.6v1.6h-1.6zM355.5 182.8h1.6v1.6h-1.6zM418.0 123.4h1.6v1.6h-1.6zM351.6 189.8h1.6v1.6h-1.6zM459.2 138.4h1.6v1.6h-1.6zM394.9 141.4h1.6v1.6h-1.6zM436.0 100.1h1.6v1.6h-1.6zM397.4 179.0h1.6v1.6h-1.6zM419.0 144.6h1.6v1.6h-1.6zM412.9 150.4h1.6v1.6h-1.6zM409.4 181.5h1.6v1.6h-1.6zM469.1 178.2h1.6v1.6h-1.6zM418.9 176.2h1.6v1.6h-1.6zM390.0 178.4h1.6v1.6h-1.6zM372.5 189.6h1.6v1.6h-1.6zM344.4 183.4h1.6v1.6h-1.6zM345.2 170.2h1.6v1.6h-1.6zM338.0 183.9h1.6v1.6h-1.6zM340.0 168.7h1.6v1.6h-1.6zM342.8 190.3h1.6v1.6h-1.6zM339.9 184.0h1.6v1.6h-1.6zM382.0 176.3h1.6v1.6h-1.6zM355.9 171.2h1.6v1.6h-1.6zM352.2 192.8h1.6v1.6h-1.6zM346.6 189.4h1.6v1.6h-1.6zM351.3 188.0h1.6v1.6h-1.6zM346.5 192.5h1.6v1.6h-1.6zM361.4 170.8h1.6v1.6h-1.6zM374.3 170.0h1.6v1.6h-1.6zM342.6 188.8h1.6v1.6h-1.6zM341.9 176.3h1.6v1.6h-1.6zM345.0 167.6h1.6v1.6h-1.6zM339.9 174.4h1.6v1.6h-1.6zM391.7 147.1h1.6v1.6h-1.6zM343.0 180.2h1.6v1.6h-1.6zM339.4 165.6h1.6v1.6h-1.6zM376.7 193.0h1.6v1.6h-1.6zM378.4 189.0h1.6v1.6h-1.6zM347.8 192.6h1.6v1.6h-1.6zM351.9 182.8h1.6v1.6h-1.6zM343.3 187.5h1.6v1.6h-1.6zM359.5 188.7h1.6v1.6h-1.6zM362.6 182.5h1.6v1.6h-1.6zM348.0 191.6h1.6v1.6h-1.6zM371.5 171.8h1.6v1.6h-1.6zM358.0 186.9h1.6v1.6h-1.6zM356.6 179.1h1.6v1.6h-1.6zM363.1 178.1h1.6v1.6h-1.6zM340.6 189.5h1.6v1.6h-1.6zM356.2 192.5h1.6v1.6h-1.6zM347.3 166.2h1.6v1.6h-1.6zM362.3 180.7h1.6v1.6h-1.6zM380.5 166.8h1.6v1.6h-1.6zM371.3 165.2h1.6v1.6h-1.6zM350.4 173.6h1.6v1.6h-1.6zM379.3 178.5h1.6v1.6h-1.6zM337.8 175.3h1.6v1.6h-1.6zM342.5 170.5h1.6v1.6h-1.6zM349.2 174.4h1.6v1.6h-1.6zM397.6 169.7h1.6v1.6h-1.6zM340.0 181.0h1.6v1.6h-1.6zM338.0 186.1h1.6v1.6h-1.6zM338.9 142.5h1.6v1.6h-1.6zM362.9 159.5h1.6v1.6h-1.6zM356.9 175.3h1.6v1.6h-1.6zM342.6 167.1h1.6v1.6h-1.6zM368.8 186.8h1.6v1.6h-1.6zM346.0 192.8h1.6v1.6h-1.6zM404.1 164.2h1.6v1.6h-1.6zM360.5 159.4h1.6v1.6h-1.6zM347.4 186.9h1.6v1.6h-1.6zM374.4 191.1h1.6v1.6h-1.6zM364.4 180.9h1.6v1.6h-1.6zM365.1 155.6h1.6v1.6h-1.6zM352.0 169.4h1.6v1.6h-1.6zM365.8 192.2h1.6v1.6h-1.6zM342.0 148.9h1.6v1.6h-1.6zM372.1 165.8h1.6v1.6h-1.6zM376.9 176.0h1.6v1.6h-1.6zM343.1 176.5h1.6v1.6h-1.6zM351.4 173.0h1.6v1.6h-1.6zM344.3 180.8h1.6v1.6h-1.6zM389.5 188.7h1.6v1.6h-1.6zM361.4 148.7h1.6v1.6h-1.6zM341.4 189.2h1.6v1.6h-1.6zM364.0 186.2h1.6v1.6h-1.6zM374.0 167.9h1.6v1.6h-1.6zM360.8 164.1h1.6v1.6h-1.6zM374.2 144.2h1.6v1.6h-1.6zM339.5 178.2h1.6v1.6h-1.6zM346.0 175.9h1.6v1.6h-1.6zM349.3 174.6h1.6v1.6h-1.6zM342.1 170.0h1.6v1.6h-1.6zM356.2 174.1h1.6v1.6h-1.6zM344.8 170.9h1.6v1.6h-1.6zM359.9 192.8h1.6v1.6h-1.6zM369.5 179.3h1.6v1.6h-1.6zM337.5 187.1h1.6v1.6h-1.6zM346.4 183.9h1.6v1.6h-1.6zM338.7 185.0h1.6v1.6h-1.6zM337.7 189.2h1.6v1.6h-1.6zM354.1 175.1h1.6v1.6h-1.6zM346.2 163.0h1.6v1.6h-1.6zM361.9 183.1h1.6v1.6h-1.6zM351.7 171.5h1.6v1.6h-1.6zM370.7 146.4h1.6v1.6h-1.6zM352.2 143.1h1.6v1.6h-1.6zM362.6 175.4h1.6v1.6h-1.6zM343.9 192.9h1.6v1.6h-1.6zM339.5 168.0h1.6v1.6h-1.6zM359.5 186.7h1.6v1.6h-1.6zM342.0 185.7h1.6v1.6h-1.6zM366.4 181.2h1.6v1.6h-1.6zM358.0 181.6h1.6v1.6h-1.6zM340.1 170.4h1.6v1.6h-1.6zM343.9 175.5h1.6v1.6h-1.6zM381.1 130.6h1.6v1.6h-1.6zM344.7 155.2h1.6v1.6h-1.6zM348.6 153.5h1.6v1.6h-1.6zM365.0 190.3h1.6v1.6h-1.6zM391.4 177.4h1.6v1.6h-1.6zM346.4 144.9h1.6v1.6h-1.6zM362.4 170.7h1.6v1.6h-1.6zM366.9 168.9h1.6v1.6h-1.6zM369.2 188.0h1.6v1.6h-1.6zM359.9 180.3h1.6v1.6h-1.6zM373.5 182.9h1.6v1.6h-1.6zM354.7 160.3h1.6v1.6h-1.6zM348.6 180.9h1.6v1.6h-1.6zM376.7 193.3h1.6v1.6h-1.6zM354.4 165.4h1.6v1.6h-1.6zM353.9 165.0h1.6v1.6h-1.6zM365.9 183.0h1.6v1.6h-1.6zM357.6 183.8h1.6v1.6h-1.6zM367.7 189.9h1.6v1.6h-1.6zM348.2 179.5h1.6v1.6h-1.6zM339.7 188.1h1.6v1.6h-1.6zM354.0 180.5h1.6v1.6h-1.6zM357.0 184.8h1.6v1.6h-1.6zM345.6 168.2h1.6v1.6h-1.6zM367.2 188.9h1.6v1.6h-1.6zM345.7 177.4h1.6v1.6h-1.6zM343.8 157.7h1.6v1.6h-1.6zM366.8 176.1h1.6v1.6h-1.6zM358.8 189.8h1.6v1.6h-1.6zM389.8 189.5h1.6v1.6h-1.6zM373.3 190.8h1.6v1.6h-1.6zM357.3 162.0h1.6v1.6h-1.6zM361.2 188.5h1.6v1.6h-1.6zM351.2 138.8h1.6v1.6h-1.6zM346.0 188.3h1.6v1.6h-1.6zM364.4 177.2h1.6v1.6h-1.6zM357.2 153.0h1.6v1.6h-1.6zM341.1 184.2h1.6v1.6h-1.6zM354.4 192.5h1.6v1.6h-1.6zM339.8 190.7h1.6v1.6h-1.6zM359.9 177.9h1.6v1.6h-1.6zM342.2 180.3h1.6v1.6h-1.6zM367.7 192.1h1.6v1.6h-1.6zM376.3 189.3h1.6v1.6h-1.6zM369.0 138.4h1.6v1.6h-1.6zM355.1 192.7h1.6v1.6h-1.6zM385.0 153.0h1.6v1.6h-1.6zM349.5 176.4h1.6v1.6h-1.6zM340.3 136.0h1.6v1.6h-1.6zM389.0 175.7h1.6v1.6h-1.6zM403.9 115.9h1.6v1.6h-1.6zM356.1 171.8h1.6v1.6h-1.6zM342.3 184.5h1.6v1.6h-1.6zM361.5 191.2h1.6v1.6h-1.6zM377.9 169.4h1.6v1.6h-1.6zM350.1 173.4h1.6v1.6h-1.6zM370.4 148.8h1.6v1.6h-1.6zM353.6 168.5h1.6v1.6h-1.6zM359.9 171.3h1.6v1.6h-1.6zM385.6 186.0h1.6v1.6h-1.6zM390.2 186.9h1.6v1.6h-1.6zM343.7 182.5h1.6v1.6h-1.6zM340.0 186.0h1.6v1.6h-1.6zM379.2 193.3h1.6v1.6h-1.6zM350.1 193.3h1.6v1.6h-1.6zM381.1 174.1h1.6v1.6h-1.6zM351.0 167.8h1.6v1.6h-1.6zM358.3 178.0h1.6v1.6h-1.6zM353.4 191.7h1.6v1.6h-1.6zM346.7 163.1h1.6v1.6h-1.6zM363.6 161.1h1.6v1.6h-1.6zM367.2 187.3h1.6v1.6h-1.6zM345.2 173.0h1.6v1.6h-1.6zM360.4 191.7h1.6v1.6h-1.6zM355.2 169.4h1.6v1.6h-1.6zM347.3 191.6h1.6v1.6h-1.6zM370.1 185.6h1.6v1.6h-1.6zM379.0 190.7h1.6v1.6h-1.6zM357.5 151.4h1.6v1.6h-1.6zM353.1 169.9h1.6v1.6h-1.6zM353.6 183.7h1.6v1.6h-1.6zM353.5 172.7h1.6v1.6h-1.6zM352.4 153.3h1.6v1.6h-1.6zM339.4 190.0h1.6v1.6h-1.6zM417.5 134.1h1.6v1.6h-1.6zM374.4 180.5h1.6v1.6h-1.6zM359.5 180.5h1.6v1.6h-1.6zM365.2 158.8h1.6v1.6h-1.6zM418.2 191.6h1.6v1.6h-1.6zM354.7 144.5h1.6v1.6h-1.6zM346.1 179.2h1.6v1.6h-1.6zM339.3 184.6h1.6v1.6h-1.6zM350.6 189.1h1.6v1.6h-1.6zM344.4 172.9h1.6v1.6h-1.6zM344.2 180.8h1.6v1.6h-1.6zM348.4 183.7h1.6v1.6h-1.6zM360.0 174.6h1.6v1.6h-1.6zM378.7 161.3h1.6v1.6h-1.6zM359.9 186.0h1.6v1.6h-1.6zM337.6 147.3h1.6v1.6h-1.6zM344.9 156.2h1.6v1.6h-1.6zM400.0 191.0h1.6v1.6h-1.6zM383.3 184.4h1.6v1.6h-1.6zM382.4 192.3h1.6v1.6h-1.6zM358.7 155.3h1.6v1.6h-1.6zM355.0 190.3h1.6v1.6h-1.6zM351.6 140.8h1.6v1.6h-1.6zM346.2 173.6h1.6v1.6h-1.6zM396.2 163.8h1.6v1.6h-1.6zM347.0 165.9h1.6v1.6h-1.6zM343.2 189.1h1.6v1.6h-1.6zM356.0 174.8h1.6v1.6h-1.6zM342.9 173.4h1.6v1.6h-1.6zM349.4 189.9h1.6v1.6h-1.6zM353.5 180.4h1.6v1.6h-1.6zM355.5 172.3h1.6v1.6h-1.6zM391.1 176.6h1.6v1.6h-1.6zM358.3 148.5h1.6v1.6h-1.6zM371.2 161.3h1.6v1.6h-1.6zM339.4 160.9h1.6v1.6h-1.6zM377.8 182.5h1.6v1.6h-1.6zM352.5 181.5h1.6v1.6h-1.6zM351.6 178.1h1.6v1.6h-1.6zM346.5 177.7h1.6v1.6h-1.6zM341.2 186.6h1.6v1.6h-1.6zM346.0 182.4h1.6v1.6h-1.6zM356.0 184.1h1.6v1.6h-1.6zM345.9 153.0h1.6v1.6h-1.6zM358.3 143.9h1.6v1.6h-1.6zM337.4 144.0h1.6v1.6h-1.6zM345.1 191.5h1.6v1.6h-1.6zM359.7 189.8h1.6v1.6h-1.6zM374.0 191.3h1.6v1.6h-1.6zM348.6 173.8h1.6v1.6h-1.6zM360.6 162.2h1.6v1.6h-1.6zM355.9 153.1h1.6v1.6h-1.6zM345.9 167.1h1.6v1.6h-1.6zM365.1 174.1h1.6v1.6h-1.6zM374.3 165.6h1.6v1.6h-1.6zM347.6 190.3h1.6v1.6h-1.6zM339.9 184.9h1.6v1.6h-1.6zM348.7 158.4h1.6v1.6h-1.6zM339.9 182.8h1.6v1.6h-1.6zM364.5 191.0h1.6v1.6h-1.6zM343.6 168.4h1.6v1.6h-1.6zM368.4 156.7h1.6v1.6h-1.6zM370.0 179.7h1.6v1.6h-1.6zM354.2 180.0h1.6v1.6h-1.6zM393.0 146.5h1.6v1.6h-1.6zM364.2 175.1h1.6v1.6h-1.6zM356.2 190.5h1.6v1.6h-1.6zM431.7 174.5h1.6v1.6h-1.6zM363.0 180.5h1.6v1.6h-1.6zM347.1 184.7h1.6v1.6h-1.6zM384.8 186.5h1.6v1.6h-1.6zM338.4 162.9h1.6v1.6h-1.6zM362.6 175.2h1.6v1.6h-1.6zM342.0 172.1h1.6v1.6h-1.6zM379.6 181.8h1.6v1.6h-1.6zM351.4 176.2h1.6v1.6h-1.6zM342.0 182.9h1.6v1.6h-1.6zM389.3 185.7h1.6v1.6h-1.6zM345.3 167.5h1.6v1.6h-1.6zM370.4 184.8h1.6v1.6h-1.6zM358.9 178.2h1.6v1.6h-1.6zM355.2 183.6h1.6v1.6h-1.6zM347.5 176.1h1.6v1.6h-1.6zM362.5 178.9h1.6v1.6h-1.6zM389.4 192.7h1.6v1.6h-1.6zM367.2 184.6h1.6v1.6h-1.6zM341.3 186.0h1.6v1.6h-1.6zM409.9 156.3h1.6v1.6h-1.6zM343.4 191.8h1.6v1.6h-1.6zM358.9 181.1h1.6v1.6h-1.6zM354.4 187.4h1.6v1.6h-1.6zM364.8 168.1h1.6v1.6h-1.6zM361.5 189.9h1.6v1.6h-1.6zM389.2 189.5h1.6v1.6h-1.6zM343.5 173.2h1.6v1.6h-1.6zM393.5 192.9h1.6v1.6h-1.6zM389.9 171.1h1.6v1.6h-1.6zM339.5 142.5h1.6v1.6h-1.6zM347.6 191.4h1.6v1.6h-1.6zM356.1 177.2h1.6v1.6h-1.6zM351.0 184.7h1.6v1.6h-1.6zM382.4 192.0h1.6v1.6h-1.6zM341.6 182.5h1.6v1.6h-1.6zM383.4 182.5h1.6v1.6h-1.6zM379.9 146.8h1.6v1.6h-1.6zM372.2 190.9h1.6v1.6h-1.6zM352.7 187.6h1.6v1.6h-1.6zM359.5 168.3h1.6v1.6h-1.6zM363.5 183.1h1.6v1.6h-1.6zM389.0 177.9h1.6v1.6h-1.6zM360.1 169.0h1.6v1.6h-1.6zM381.9 182.3h1.6v1.6h-1.6zM356.3 192.9h1.6v1.6h-1.6zM365.8 184.5h1.6v1.6h-1.6zM363.5 178.4h1.6v1.6h-1.6zM379.8 170.8h1.6v1.6h-1.6zM354.7 172.2h1.6v1.6h-1.6zM339.9 186.4h1.6v1.6h-1.6zM350.2 184.4h1.6v1.6h-1.6zM341.0 149.4h1.6v1.6h-1.6zM337.9 172.0h1.6v1.6h-1.6zM340.1 185.3h1.6v1.6h-1.6zM353.8 190.7h1.6v1.6h-1.6zM351.4 179.1h1.6v1.6h-1.6zM344.8 177.0h1.6v1.6h-1.6zM347.3 177.6h1.6v1.6h-1.6zM359.8 189.8h1.6v1.6h-1.6zM348.7 187.1h1.6v1.6h-1.6zM383.2 190.5h1.6v1.6h-1.6zM345.3 172.4h1.6v1.6h-1.6zM355.8 188.7h1.6v1.6h-1.6zM344.3 183.5h1.6v1.6h-1.6zM342.3 179.5h1.6v1.6h-1.6zM338.2 189.4h1.6v1.6h-1.6zM352.0 166.6h1.6v1.6h-1.6zM367.0 182.1h1.6v1.6h-1.6zM338.8 155.0h1.6v1.6h-1.6zM342.0 174.1h1.6v1.6h-1.6zM352.9 191.9h1.6v1.6h-1.6zM372.3 181.8h1.6v1.6h-1.6zM343.4 166.9h1.6v1.6h-1.6zM338.7 186.2h1.6v1.6h-1.6zM386.0 169.4h1.6v1.6h-1.6zM370.4 190.6h1.6v1.6h-1.6zM366.3 176.5h1.6v1.6h-1.6zM353.5 180.1h1.6v1.6h-1.6zM352.6 166.0h1.6v1.6h-1.6zM352.4 159.9h1.6v1.6h-1.6zM383.5 172.1h1.6v1.6h-1.6zM351.1 192.5h1.6v1.6h-1.6zM344.4 182.0h1.6v1.6h-1.6zM388.9 182.9h1.6v1.6h-1.6zM364.2 181.7h1.6v1.6h-1.6zM353.6 184.7h1.6v1.6h-1.6zM366.1 157.1h1.6v1.6h-1.6zM361.9 183.6h1.6v1.6h-1.6zM358.2 184.2h1.6v1.6h-1.6zM346.9 168.3h1.6v1.6h-1.6zM357.6 183.3h1.6v1.6h-1.6zM338.8 181.5h1.6v1.6h-1.6zM351.0 191.4h1.6v1.6h-1.6zM349.0 166.0h1.6v1.6h-1.6zM381.7 188.6h1.6v1.6h-1.6zM360.7 173.5h1.6v1.6h-1.6zM408.1 187.7h1.6v1.6h-1.6zM345.8 134.1h1.6v1.6h-1.6zM390.2 187.7h1.6v1.6h-1.6zM345.3 190.7h1.6v1.6h-1.6zM355.2 186.6h1.6v1.6h-1.6zM371.9 167.0h1.6v1.6h-1.6zM367.5 179.6h1.6v1.6h-1.6zM341.8 193.0h1.6v1.6h-1.6zM342.7 186.9h1.6v1.6h-1.6zM381.9 170.7h1.6v1.6h-1.6zM346.8 180.6h1.6v1.6h-1.6zM352.6 186.6h1.6v1.6h-1.6zM386.6 178.6h1.6v1.6h-1.6zM348.6 182.0h1.6v1.6h-1.6zM337.8 149.3h1.6v1.6h-1.6zM362.3 191.1h1.6v1.6h-1.6zM345.0 153.2h1.6v1.6h-1.6zM366.7 180.6h1.6v1.6h-1.6zM376.0 167.0h1.6v1.6h-1.6zM354.4 160.2h1.6v1.6h-1.6zM356.0 155.2h1.6v1.6h-1.6zM373.5 180.8h1.6v1.6h-1.6zM341.2 185.0h1.6v1.6h-1.6zM375.8 167.5h1.6v1.6h-1.6zM400.7 183.3h1.6v1.6h-1.6zM395.3 179.3h1.6v1.6h-1.6zM377.0 181.9h1.6v1.6h-1.6zM379.5 167.9h1.6v1.6h-1.6zM347.1 178.6h1.6v1.6h-1.6zM369.7 163.4h1.6v1.6h-1.6zM359.7 159.3h1.6v1.6h-1.6zM359.8 165.3h1.6v1.6h-1.6zM342.6 160.0h1.6v1.6h-1.6zM361.0 191.8h1.6v1.6h-1.6zM339.3 186.1h1.6v1.6h-1.6zM353.7 181.5h1.6v1.6h-1.6zM368.7 180.6h1.6v1.6h-1.6zM356.9 182.8h1.6v1.6h-1.6zM341.1 189.2h1.6v1.6h-1.6zM340.0 188.9h1.6v1.6h-1.6zM351.3 184.0h1.6v1.6h-1.6zM339.1 170.5h1.6v1.6h-1.6zM348.2 171.9h1.6v1.6h-1.6zM338.3 160.4h1.6v1.6h-1.6zM355.3 185.3h1.6v1.6h-1.6zM367.8 164.9h1.6v1.6h-1.6zM382.3 161.5h1.6v1.6h-1.6zM347.8 176.1h1.6v1.6h-1.6zM350.7 177.4h1.6v1.6h-1.6zM355.2 185.6h1.6v1.6h-1.6zM368.4 170.2h1.6v1.6h-1.6zM344.8 186.5h1.6v1.6h-1.6zM339.3 137.9h1.6v1.6h-1.6zM380.2 164.9h1.6v1.6h-1.6zM344.2 167.7h1.6v1.6h-1.6zM342.9 182.6h1.6v1.6h-1.6zM342.9 189.6h1.6v1.6h-1.6zM405.5 175.9h1.6v1.6h-1.6zM386.2 183.5h1.6v1.6h-1.6zM339.8 186.2h1.6v1.6h-1.6zM372.2 191.3h1.6v1.6h-1.6zM373.0 192.3h1.6v1.6h-1.6zM369.6 168.7h1.6v1.6h-1.6zM361.0 162.6h1.6v1.6h-1.6zM355.6 184.7h1.6v1.6h-1.6zM342.4 167.6h1.6v1.6h-1.6zM386.3 174.0h1.6v1.6h-1.6zM344.8 177.7h1.6v1.6h-1.6zM343.9 170.9h1.6v1.6h-1.6zM350.7 147.3h1.6v1.6h-1.6zM341.6 165.1h1.6v1.6h-1.6zM341.8 169.0h1.6v1.6h-1.6zM337.4 170.1h1.6v1.6h-1.6zM347.5 185.7h1.6v1.6h-1.6zM345.6 167.0h1.6v1.6h-1.6zM373.6 182.5h1.6v1.6h-1.6zM375.7 176.1h1.6v1.6h-1.6zM351.4 192.5h1.6v1.6h-1.6zM344.9 151.3h1.6v1.6h-1.6zM360.9 151.0h1.6v1.6h-1.6zM363.2 182.8h1.6v1.6h-1.6zM395.7 167.1h1.6v1.6h-1.6zM377.6 187.9h1.6v1.6h-1.6zM356.9 190.0h1.6v1.6h-1.6zM350.4 171.8h1.6v1.6h-1.6zM344.5 171.0h1.6v1.6h-1.6zM364.8 171.3h1.6v1.6h-1.6zM361.5 186.5h1.6v1.6h-1.6zM341.9 187.2h1.6v1.6h-1.6zM359.2 167.0h1.6v1.6h-1.6zM377.9 156.9h1.6v1.6h-1.6zM342.6 150.4h1.6v1.6h-1.6zM342.1 190.4h1.6v1.6h-1.6zM346.9 186.0h1.6v1.6h-1.6zM341.0 183.0h1.6v1.6h-1.6zM372.2 163.2h1.6v1.6h-1.6zM339.3 155.4h1.6v1.6h-1.6zM355.7 182.5h1.6v1.6h-1.6zM375.3 178.6h1.6v1.6h-1.6zM389.2 167.1h1.6v1.6h-1.6zM353.8 188.6h1.6v1.6h-1.6zM378.1 191.1h1.6v1.6h-1.6zM342.1 182.5h1.6v1.6h-1.6zM359.8 153.2h1.6v1.6h-1.6zM367.8 193.2h1.6v1.6h-1.6zM352.9 177.4h1.6v1.6h-1.6zM339.5 193.2h1.6v1.6h-1.6zM379.6 186.9h1.6v1.6h-1.6zM345.3 187.4h1.6v1.6h-1.6zM383.5 187.4h1.6v1.6h-1.6zM348.4 169.8h1.6v1.6h-1.6zM391.4 180.6h1.6v1.6h-1.6zM338.3 185.8h1.6v1.6h-1.6zM339.4 163.6h1.6v1.6h-1.6zM351.0 164.9h1.6v1.6h-1.6zM345.6 172.7h1.6v1.6h-1.6zM373.1 169.7h1.6v1.6h-1.6zM342.1 185.7h1.6v1.6h-1.6zM342.8 183.5h1.6v1.6h-1.6zM378.1 192.5h1.6v1.6h-1.6zM406.0 180.5h1.6v1.6h-1.6zM360.7 167.1h1.6v1.6h-1.6zM357.2 180.6h1.6v1.6h-1.6zM352.0 180.4h1.6v1.6h-1.6zM353.0 158.1h1.6v1.6h-1.6zM340.3 180.0h1.6v1.6h-1.6zM369.3 166.4h1.6v1.6h-1.6zM376.7 162.4h1.6v1.6h-1.6zM385.2 185.0h1.6v1.6h-1.6zM369.7 191.2h1.6v1.6h-1.6zM376.0 157.7h1.6v1.6h-1.6zM376.6 184.7h1.6v1.6h-1.6zM342.5 190.5h1.6v1.6h-1.6zM369.4 152.8h1.6v1.6h-1.6zM367.2 184.3h1.6v1.6h-1.6zM344.2 173.4h1.6v1.6h-1.6zM357.9 164.0h1.6v1.6h-1.6zM348.0 158.2h1.6v1.6h-1.6zM392.3 160.0h1.6v1.6h-1.6zM338.8 191.7h1.6v1.6h-1.6zM364.7 191.8h1.6v1.6h-1.6zM346.7 179.5h1.6v1.6h-1.6zM376.7 189.1h1.6v1.6h-1.6zM339.3 168.9h1.6v1.6h-1.6zM369.5 192.6h1.6v1.6h-1.6zM369.0 174.9h1.6v1.6h-1.6zM370.4 155.8h1.6v1.6h-1.6zM397.5 179.8h1.6v1.6h-1.6zM349.4 181.1h1.6v1.6h-1.6zM357.4 167.8h1.6v1.6h-1.6zM342.9 185.7h1.6v1.6h-1.6zM369.5 192.7h1.6v1.6h-1.6zM368.6 184.8h1.6v1.6h-1.6zM340.8 190.1h1.6v1.6h-1.6zM338.6 167.8h1.6v1.6h-1.6zM355.8 186.0h1.6v1.6h-1.6zM367.2 165.6h1.6v1.6h-1.6zM391.3 186.1h1.6v1.6h-1.6zM368.6 179.0h1.6v1.6h-1.6zM363.8 181.1h1.6v1.6h-1.6zM343.2 183.9h1.6v1.6h-1.6zM389.7 191.8h1.6v1.6h-1.6zM368.9 192.6h1.6v1.6h-1.6zM358.7 176.4h1.6v1.6h-1.6zM346.3 187.7h1.6v1.6h-1.6zM391.3 174.9h1.6v1.6h-1.6zM366.9 156.7h1.6v1.6h-1.6zM344.6 190.8h1.6v1.6h-1.6zM344.4 178.0h1.6v1.6h-1.6zM345.5 179.4h1.6v1.6h-1.6zM351.9 175.0h1.6v1.6h-1.6zM360.4 180.0h1.6v1.6h-1.6zM359.2 170.3h1.6v1.6h-1.6zM341.9 181.7h1.6v1.6h-1.6zM360.2 186.7h1.6v1.6h-1.6zM363.8 185.7h1.6v1.6h-1.6zM373.8 180.1h1.6v1.6h-1.6zM356.5 151.1h1.6v1.6h-1.6zM358.7 175.0h1.6v1.6h-1.6zM338.6 183.4h1.6v1.6h-1.6zM354.8 193.1h1.6v1.6h-1.6zM358.8 189.0h1.6v1.6h-1.6zM340.4 184.4h1.6v1.6h-1.6zM359.9 167.2h1.6v1.6h-1.6zM337.4 177.0h1.6v1.6h-1.6zM351.4 190.8h1.6v1.6h-1.6zM363.2 173.3h1.6v1.6h-1.6zM377.2 159.9h1.6v1.6h-1.6zM349.7 176.6h1.6v1.6h-1.6zM350.0 169.6h1.6v1.6h-1.6zM338.2 163.0h1.6v1.6h-1.6zM365.0 189.7h1.6v1.6h-1.6zM344.3 184.0h1.6v1.6h-1.6zM361.6 181.7h1.6v1.6h-1.6zM386.8 165.3h1.6v1.6h-1.6zM342.1 152.9h1.6v1.6h-1.6zM353.9 193.0h1.6v1.6h-1.6zM379.3 173.3h1.6v1.6h-1.6zM369.7 167.2h1.6v1.6h-1.6zM347.5 191.4h1.6v1.6h-1.6zM373.5 172.5h1.6v1.6h-1.6zM347.4 178.3h1.6v1.6h-1.6zM353.1 185.0h1.6v1.6h-1.6zM355.0 189.5h1.6v1.6h-1.6zM385.0 161.6h1.6v1.6h-1.6zM356.1 143.6h1.6v1.6h-1.6zM368.4 167.4h1.6v1.6h-1.6zM346.8 179.7h1.6v1.6h-1.6zM344.7 166.7h1.6v1.6h-1.6zM356.3 147.2h1.6v1.6h-1.6zM340.9 176.4h1.6v1.6h-1.6zM348.3 190.6h1.6v1.6h-1.6zM353.2 145.6h1.6v1.6h-1.6zM358.4 166.4h1.6v1.6h-1.6zM344.5 184.0h1.6v1.6h-1.6zM364.3 168.6h1.6v1.6h-1.6zM353.7 168.3h1.6v1.6h-1.6zM398.2 168.4h1.6v1.6h-1.6zM346.1 188.4h1.6v1.6h-1.6zM380.6 181.1h1.6v1.6h-1.6zM352.8 169.4h1.6v1.6h-1.6zM394.0 193.0h1.6v1.6h-1.6zM349.5 173.4h1.6v1.6h-1.6zM357.5 165.3h1.6v1.6h-1.6zM371.7 159.6h1.6v1.6h-1.6zM363.9 183.4h1.6v1.6h-1.6zM389.2 134.7h1.6v1.6h-1.6zM378.0 154.8h1.6v1.6h-1.6zM351.0 185.9h1.6v1.6h-1.6zM371.4 179.3h1.6v1.6h-1.6zM357.6 154.0h1.6v1.6h-1.6zM381.8 163.2h1.6v1.6h-1.6zM348.1 145.4h1.6v1.6h-1.6zM339.1 189.4h1.6v1.6h-1.6zM360.0 192.9h1.6v1.6h-1.6zM349.8 190.7h1.6v1.6h-1.6zM342.6 172.0h1.6v1.6h-1.6zM379.9 166.0h1.6v1.6h-1.6zM461.5 30.8h1.6v1.6h-1.6zM483.7 30.8h1.6v1.6h-1.6zM494.8 38.8h1.6v1.6h-1.6zM497.0 42.5h1.6v1.6h-1.6zM451.7 40.9h1.6v1.6h-1.6zM453.8 49.2h1.6v1.6h-1.6zM451.7 57.2h1.6v1.6h-1.6zM466.2 58.5h1.6v1.6h-1.6zM461.5 64.0h1.6v1.6h-1.6zM424.6 64.6h1.6v1.6h-1.6zM436.9 68.0h1.6v1.6h-1.6zM484.6 69.5h1.6v1.6h-1.6zM482.5 71.7h1.6v1.6h-1.6zM387.0 73.2h1.6v1.6h-1.6zM402.5 74.8h1.6v1.6h-1.6zM418.5 72.6h1.6v1.6h-1.6zM427.0 74.2h1.6v1.6h-1.6zM447.7 71.7h1.6v1.6h-1.6zM466.2 73.8h1.6v1.6h-1.6zM468.3 73.8h1.6v1.6h-1.6zM386.2 77.8h1.6v1.6h-1.6zM417.0 80.9h1.6v1.6h-1.6zM433.8 80.9h1.6v1.6h-1.6zM443.0 76.3h1.6v1.6h-1.6zM452.3 79.4h1.6v1.6h-1.6zM457.0 80.9h1.6v1.6h-1.6zM464.6 79.4h1.6v1.6h-1.6zM469.2 80.9h1.6v1.6h-1.6zM478.5 80.9h1.6v1.6h-1.6zM377.0 82.5h1.6v1.6h-1.6zM363.0 87.0h1.6v1.6h-1.6zM492.3 88.6h1.6v1.6h-1.6zM435.4 90.2h1.6v1.6h-1.6zM450.8 88.6h1.6v1.6h-1.6zM458.5 84.0h1.6v1.6h-1.6zM467.7 87.0h1.6v1.6h-1.6zM336.2 83.8h1.6v1.6h-1.6zM336.2 121.4h1.6v1.6h-1.6zM336.2 136.1h1.6v1.6h-1.6zM336.2 130.6h1.6v1.6h-1.6zM336.2 111.7h1.6v1.6h-1.6zM336.2 85.9h1.6v1.6h-1.6zM336.2 87.1h1.6v1.6h-1.6zM336.2 128.2h1.6v1.6h-1.6zM336.2 140.2h1.6v1.6h-1.6zM336.2 132.6h1.6v1.6h-1.6zM336.2 136.4h1.6v1.6h-1.6zM336.2 102.2h1.6v1.6h-1.6zM336.2 139.0h1.6v1.6h-1.6zM336.2 113.9h1.6v1.6h-1.6zM336.2 137.2h1.6v1.6h-1.6zM336.2 129.7h1.6v1.6h-1.6zM336.2 136.0h1.6v1.6h-1.6zM336.2 141.9h1.6v1.6h-1.6zM336.2 105.9h1.6v1.6h-1.6zM336.2 132.1h1.6v1.6h-1.6zM336.2 97.1h1.6v1.6h-1.6zM336.2 126.5h1.6v1.6h-1.6zM336.2 141.8h1.6v1.6h-1.6zM336.2 115.6h1.6v1.6h-1.6zM336.2 138.8h1.6v1.6h-1.6zM336.2 117.4h1.6v1.6h-1.6zM336.2 98.1h1.6v1.6h-1.6zM336.2 126.8h1.6v1.6h-1.6zM336.2 137.4h1.6v1.6h-1.6zM336.2 141.0h1.6v1.6h-1.6zM336.2 132.6h1.6v1.6h-1.6zM336.2 113.3h1.6v1.6h-1.6zM336.2 75.6h1.6v1.6h-1.6zM336.2 74.7h1.6v1.6h-1.6zM336.2 117.0h1.6v1.6h-1.6zM336.2 136.7h1.6v1.6h-1.6zM336.2 122.8h1.6v1.6h-1.6zM336.2 127.5h1.6v1.6h-1.6zM336.2 111.3h1.6v1.6h-1.6zM336.2 97.3h1.6v1.6h-1.6zM336.2 122.3h1.6v1.6h-1.6zM336.2 142.5h1.6v1.6h-1.6zM336.2 137.4h1.6v1.6h-1.6zM336.2 139.3h1.6v1.6h-1.6zM336.2 140.3h1.6v1.6h-1.6zM336.2 119.7h1.6v1.6h-1.6zM336.2 64.9h1.6v1.6h-1.6zM336.2 136.7h1.6v1.6h-1.6zM336.2 139.2h1.6v1.6h-1.6zM336.2 115.2h1.6v1.6h-1.6zM336.2 144.9h1.6v1.6h-1.6zM336.2 143.2h1.6v1.6h-1.6zM336.2 143.6h1.6v1.6h-1.6zM336.2 141.9h1.6v1.6h-1.6zM336.2 88.0h1.6v1.6h-1.6zM336.2 83.9h1.6v1.6h-1.6zM336.2 123.6h1.6v1.6h-1.6zM336.2 145.5h1.6v1.6h-1.6zM336.2 134.8h1.6v1.6h-1.6zM387.1 195.8h1.6v1.6h-1.6zM390.1 195.8h1.6v1.6h-1.6zM376.6 195.8h1.6v1.6h-1.6zM349.5 195.8h1.6v1.6h-1.6zM355.3 195.8h1.6v1.6h-1.6zM361.1 195.8h1.6v1.6h-1.6zM348.0 195.8h1.6v1.6h-1.6zM338.0 195.8h1.6v1.6h-1.6zM397.2 195.8h1.6v1.6h-1.6zM361.1 195.8h1.6v1.6h-1.6zM375.1 195.8h1.6v1.6h-1.6zM343.1 195.8h1.6v1.6h-1.6zM391.1 195.8h1.6v1.6h-1.6zM384.3 195.8h1.6v1.6h-1.6zM338.8 195.8h1.6v1.6h-1.6zM349.1 195.8h1.6v1.6h-1.6zM383.8 195.8h1.6v1.6h-1.6zM339.8 195.8h1.6v1.6h-1.6zM337.7 195.8h1.6v1.6h-1.6zM343.8 195.8h1.6v1.6h-1.6zM345.3 195.8h1.6v1.6h-1.6zM385.7 195.8h1.6v1.6h-1.6zM386.3 195.8h1.6v1.6h-1.6zM372.8 195.8h1.6v1.6h-1.6zM355.7 195.8h1.6v1.6h-1.6zM386.4 195.8h1.6v1.6h-1.6zM376.8 195.8h1.6v1.6h-1.6zM340.1 195.8h1.6v1.6h-1.6zM348.3 195.8h1.6v1.6h-1.6zM380.7 195.8h1.6v1.6h-1.6zM372.4 195.8h1.6v1.6h-1.6zM361.4 195.8h1.6v1.6h-1.6zM370.1 195.8h1.6v1.6h-1.6zM351.7 195.8h1.6v1.6h-1.6zM373.7 195.8h1.6v1.6h-1.6zM345.0 195.8h1.6v1.6h-1.6zM399.4 195.8h1.6v1.6h-1.6zM388.9 195.8h1.6v1.6h-1.6zM368.0 195.8h1.6v1.6h-1.6zM398.8 195.8h1.6v1.6h-1.6zM379.6 195.8h1.6v1.6h-1.6zM373.2 195.8h1.6v1.6h-1.6zM377.6 195.8h1.6v1.6h-1.6zM381.1 195.8h1.6v1.6h-1.6zM399.6 195.8h1.6v1.6h-1.6zM386.4 195.8h1.6v1.6h-1.6zM351.4 195.8h1.6v1.6h-1.6zM340.0 195.8h1.6v1.6h-1.6zM395.1 195.8h1.6v1.6h-1.6zM383.4 195.8h1.6v1.6h-1.6zM373.5 195.8h1.6v1.6h-1.6zM367.5 195.8h1.6v1.6h-1.6zM397.0 195.8h1.6v1.6h-1.6zM338.9 195.8h1.6v1.6h-1.6zM346.1 195.8h1.6v1.6h-1.6zM356.5 195.8h1.6v1.6h-1.6zM400.0 195.8h1.6v1.6h-1.6zM380.7 195.8h1.6v1.6h-1.6zM374.7 195.8h1.6v1.6h-1.6zM358.1 195.8h1.6v1.6h-1.6zM401.8 195.8h1.6v1.6h-1.6zM400.7 195.8h1.6v1.6h-1.6zM412.3 195.8h1.6v1.6h-1.6zM403.7 195.8h1.6v1.6h-1.6zM411.3 195.8h1.6v1.6h-1.6zM408.7 195.8h1.6v1.6h-1.6zM421.7 195.8h1.6v1.6h-1.6zM404.2 195.8h1.6v1.6h-1.6zM401.8 195.8h1.6v1.6h-1.6zM401.4 195.8h1.6v1.6h-1.6zM421.8 195.8h1.6v1.6h-1.6zM410.4 195.8h1.6v1.6h-1.6zM443.6 195.8h1.6v1.6h-1.6zM404.8 195.8h1.6v1.6h-1.6zM433.8 195.8h1.6v1.6h-1.6zM411.0 195.8h1.6v1.6h-1.6zM446.3 195.8h1.6v1.6h-1.6zM419.4 195.8h1.6v1.6h-1.6zM403.9 195.8h1.6v1.6h-1.6z" fill="#222" transform="translate(-0.8,-0.8)"/><rect x="336" y="177.6" width="70" height="2.2" fill="#fff" opacity="0.8"/><rect x="336" y="178.4" width="70" height="0.6" fill="#aaa"/><path d="M328.7 24.3 H518.5" stroke="#555" stroke-width="1.2"/><path d="M328.7 24.3 V202.3 H518.3 V24.3" stroke="#bbb" stroke-width="1.2" fill="none"/><path d="M325.8 41.6 H328.7" stroke="#777" stroke-width="1"/><path d="M325.8 92.9 H328.7" stroke="#777" stroke-width="1"/><path d="M325.8 144.2 H328.7" stroke="#777" stroke-width="1"/><path d="M325.8 195.5 H328.7" stroke="#777" stroke-width="1"/><path d="M336.3 202.3 V205.6" stroke="#777" stroke-width="1"/><path d="M372.3 202.3 V205.6" stroke="#777" stroke-width="1"/><path d="M408.4 202.3 V205.6" stroke="#777" stroke-width="1"/><path d="M444.5 202.3 V205.6" stroke="#777" stroke-width="1"/><path d="M480.6 202.3 V205.6" stroke="#777" stroke-width="1"/><text transform="translate(322.10,41.70) scale(1.1,1)" text-anchor="end" font-family="'Liberation Sans', sans-serif" font-size="13" font-weight="normal" stroke="#000" stroke-width="0.45">500 000</text><text transform="translate(322.10,94.70) scale(1.1,1)" text-anchor="end" font-family="'Liberation Sans', sans-serif" font-size="13" font-weight="normal" stroke="#000" stroke-width="0.45">50 000</text><text transform="translate(322.90,147.30) scale(1.1,1)" text-anchor="end" font-family="'Liberation Sans', sans-serif" font-size="13" font-weight="normal" stroke="#000" stroke-width="0.45">5 000</text><text transform="translate(321.40,199.10) scale(1.1,1)" text-anchor="end" font-family="'Liberation Sans', sans-serif" font-size="13" font-weight="normal" stroke="#000" stroke-width="0.45">500</text><text transform="translate(338.90,220.60) scale(1.1,1)" text-anchor="middle" font-family="'Liberation Sans', sans-serif" font-size="12.8" font-weight="normal" stroke="#000" stroke-width="0.45">0.3</text><text transform="translate(372.20,220.60) scale(1.1,1)" text-anchor="middle" font-family="'Liberation Sans', sans-serif" font-size="12.8" font-weight="normal" stroke="#000" stroke-width="0.45">3</text><text transform="translate(405.90,220.60) scale(1.1,1)" text-anchor="middle" font-family="'Liberation Sans', sans-serif" font-size="12.8" font-weight="normal" stroke="#000" stroke-width="0.45">30</text><text transform="translate(443.50,220.60) scale(1.1,1)" text-anchor="middle" font-family="'Liberation Sans', sans-serif" font-size="12.8" font-weight="normal" stroke="#000" stroke-width="0.45">300</text><text transform="translate(480.90,220.60) scale(1.1,1)" text-anchor="middle" font-family="'Liberation Sans', sans-serif" font-size="12.8" font-weight="normal" stroke="#000" stroke-width="0.45">3000</text><text transform="translate(423.50,238.10) scale(0.94,1)" text-anchor="middle" font-family="'Liberation Sans', sans-serif" font-size="15.2" font-weight="normal" stroke="#000" stroke-width="0.45">Platelet transcripts</text><text transform="translate(422.00,255.50) scale(0.9,1)" text-anchor="middle" font-family="'Liberation Sans', sans-serif" font-size="15.2" font-weight="normal" stroke="#000" stroke-width="0.45">(RPKM)</text><text transform="translate(261.30,118.20) rotate(-90) scale(0.99,1)" text-anchor="middle" font-family="'Liberation Sans', sans-serif" font-size="14.5" font-weight="normal" stroke="#000" stroke-width="0.45">Platelet proteins (counts)</text><text transform="translate(336.50,37.60) scale(1.15,1)" text-anchor="start" font-family="'Liberation Sans', sans-serif" font-size="12.5" font-weight="normal" stroke="#000" stroke-width="0.45">≤0.3</text><path d="M336 37.5 V49" stroke="#555" stroke-width="1.2"/><path d="M333.4 45.3 L336 49.5 L338.6 45.3" stroke="#555" stroke-width="1.2" fill="none"/><text transform="translate(485.00,200.60) scale(1.12,1)" text-anchor="start" font-family="'Liberation Sans', sans-serif" font-size="12.5" font-weight="normal" stroke="#000" stroke-width="0.45">≤500</text><path d="M467 195.4 H481.5" stroke="#555" stroke-width="1.2"/><path d="M470.8 192.8 L466.6 195.4 L470.8 198" stroke="#555" stroke-width="1.2" fill="none"/><text transform="translate(0.20,267.00)" text-anchor="start" font-family="'Liberation Sans', sans-serif" font-size="24" font-weight="bold" stroke="#000" stroke-width="0.7">C</text><rect x="13.5" y="270.8" width="505.5" height="138.4" fill="#fff" stroke="#4a4a4a" stroke-width="1"/><path d="M57.30 271.3V408.7M65.75 271.3V408.7M74.21 271.3V408.7M82.66 271.3V408.7M91.12 271.3V408.7M99.57 271.3V408.7M108.03 271.3V408.7M116.48 271.3V408.7M124.94 271.3V408.7M133.39 271.3V408.7M141.85 271.3V408.7M150.31 271.3V408.7M158.76 271.3V408.7M167.22 271.3V408.7M175.67 271.3V408.7M184.12 271.3V408.7M192.58 271.3V408.7M201.04 271.3V408.7M209.49 271.3V408.7M217.94 271.3V408.7M226.40 271.3V408.7M234.86 271.3V408.7M243.31 271.3V408.7M251.76 271.3V408.7M260.22 271.3V408.7M268.68 271.3V408.7M277.13 271.3V408.7M285.58 271.3V408.7M294.04 271.3V408.7M302.50 271.3V408.7M310.95 271.3V408.7M319.41 271.3V408.7M327.86 271.3V408.7M336.31 271.3V408.7M344.77 271.3V408.7M353.23 271.3V408.7M361.68 271.3V408.7M370.13 271.3V408.7M378.59 271.3V408.7M387.05 271.3V408.7M395.50 271.3V408.7M403.96 271.3V408.7M412.41 271.3V408.7M420.87 271.3V408.7M429.32 271.3V408.7M437.78 271.3V408.7M446.23 271.3V408.7M454.69 271.3V408.7M463.14 271.3V408.7M471.60 271.3V408.7M480.05 271.3V408.7M488.50 271.3V408.7M496.96 271.3V408.7M505.42 271.3V408.7M513.87 271.3V408.7" stroke="#dadada" stroke-width="1"/><path d="M47.6 271.3V408.7" stroke="#d0d0d0" stroke-width="1"/><text x="45.8" y="279" text-anchor="end" font-family="'Liberation Mono', monospace" font-size="7">Scale</text><text x="45.8" y="287" text-anchor="end" font-family="'Liberation Mono', monospace" font-size="7">chr17:</text><text x="45.8" y="295.5" text-anchor="end" font-family="'Liberation Mono', monospace" font-size="7">453 _</text><text x="45.8" y="386.5" text-anchor="end" font-family="'Liberation Mono', monospace" font-size="7">1 _</text><text x="46.5" y="402" text-anchor="end" font-family="'Liberation Mono', monospace" font-size="7">GP1BA</text><text transform="translate(21.8,342.5) rotate(-90)" text-anchor="middle" font-family="'Liberation Mono', monospace" font-size="7">Human Platelets</text><path d="M52 282V287.5" stroke="#000" stroke-width="1"/><text x="95.4" y="287" text-anchor="start" font-family="'Liberation Mono', monospace" font-size="7">4,836,000</text><text x="177.3" y="287" text-anchor="start" font-family="'Liberation Mono', monospace" font-size="7">4,836,500</text><text x="259.5" y="287" text-anchor="start" font-family="'Liberation Mono', monospace" font-size="7">4,837,000</text><text x="341.7" y="287" text-anchor="start" font-family="'Liberation Mono', monospace" font-size="7">4,837,500</text><text x="424.8" y="287" text-anchor="start" font-family="'Liberation Mono', monospace" font-size="7">4,838,000</text><path d="M133.6 282V287.5" stroke="#000" stroke-width="1"/><path d="M216.4 282V287.5" stroke="#000" stroke-width="1"/><path d="M299.1 282V287.5" stroke="#000" stroke-width="1"/><path d="M381.7 282V287.5" stroke="#000" stroke-width="1"/><path d="M464.2 282V287.5" stroke="#000" stroke-width="1"/><text x="188.5" y="279" text-anchor="start" font-family="'Liberation Mono', monospace" font-size="7">1 kb</text><path d="M207 273.5V279 M207 276.2H371 M371 273.5V279" stroke="#000" stroke-width="0.8" fill="none"/><text x="377.2" y="279" text-anchor="start" font-family="'Liberation Mono', monospace" font-size="7">hg19</text><text x="189.8" y="295.5" text-anchor="start" font-family="'Liberation Mono', monospace" font-size="7">Poly-A isolated RNA from female human platelets</text><text x="141" y="395.6" text-anchor="start" font-family="'Liberation Mono', monospace" font-size="7">UCSC Genes (RefSeq, UniProt, CCDS, Rfam, tRNAs &amp; Comparative Genomics)</text><path d="M64.6 387.0 L65.9 374.8 L66.6 360.7 L67.3 350.6 L68.0 337.1 L68.7 320.3 L69.4 311.9 L70.1 304.0 L70.8 303.0 L71.5 311.1 L72.2 303.7 L72.9 309.8 L73.6 313.3 L74.3 330.9 L75.0 339.7 L75.7 343.5 L76.4 346.6 L77.1 348.5 L77.8 352.0 L78.5 353.7 L79.2 358.6 L79.9 361.5 L80.6 361.5 L81.2 361.0 L81.7 387.0 Z M116.1 387.0 L117.8 350.1 L118.5 337.2 L119.2 324.0 L119.9 315.2 L120.6 310.6 L121.3 305.0 L122.0 299.3 L122.7 296.5 L123.4 301.9 L124.1 304.6 L124.8 310.8 L125.5 314.3 L126.2 324.0 L126.9 327.9 L127.6 331.3 L128.3 331.0 L129.0 330.6 L129.7 334.0 L130.4 338.7 L131.1 342.5 L131.8 347.1 L132.5 345.8 L133.2 349.4 L133.9 345.8 L134.6 343.4 L135.3 341.4 L136.0 337.8 L136.7 336.4 L137.4 334.0 L138.1 334.2 L138.8 328.3 L139.5 324.8 L140.2 323.5 L140.9 318.9 L141.6 318.3 L142.3 317.1 L143.0 317.0 L143.7 318.8 L144.4 316.0 L145.1 315.2 L145.8 315.6 L146.5 318.6 L147.2 325.7 L147.9 320.2 L148.6 316.2 L149.3 312.7 L150.0 313.1 L150.7 311.6 L151.4 311.0 L152.1 310.4 L152.8 314.0 L153.5 318.7 L154.2 322.4 L154.9 327.1 L155.6 331.7 L156.3 335.8 L157.0 340.3 L157.7 342.4 L158.4 344.5 L159.1 340.2 L159.8 336.3 L160.5 331.9 L161.2 327.9 L161.9 322.3 L162.6 322.0 L163.3 318.4 L164.0 318.2 L164.7 316.1 L165.4 316.5 L166.1 318.2 L166.8 322.9 L167.5 324.2 L168.2 327.6 L168.9 331.0 L169.6 332.2 L170.3 337.6 L171.0 340.4 L171.7 340.6 L172.4 345.6 L173.1 351.1 L173.8 354.7 L174.5 349.3 L175.2 347.2 L175.9 343.2 L176.6 337.6 L177.3 334.1 L178.0 332.1 L178.7 328.8 L179.4 327.6 L180.1 324.6 L180.8 328.1 L181.5 327.9 L182.2 328.5 L182.9 331.2 L183.6 336.0 L184.3 339.7 L185.0 346.6 L185.7 351.8 L186.4 356.2 L187.1 353.2 L187.8 363.0 L188.5 362.7 L189.2 363.3 L189.9 364.3 L190.6 363.1 L191.3 361.4 L192.0 361.0 L192.7 358.5 L193.4 356.4 L194.1 354.9 L194.8 354.6 L195.5 353.2 L196.2 352.1 L196.9 351.7 L197.6 354.4 L198.3 358.6 L199.0 360.7 L199.7 363.4 L200.4 367.7 L201.1 372.1 L201.8 374.6 L202.5 372.1 L203.2 367.5 L203.9 365.9 L204.6 362.6 L205.3 360.8 L206.0 361.6 L206.7 359.7 L207.4 357.7 L208.1 356.2 L208.8 354.9 L209.5 355.7 L210.2 350.5 L210.9 350.0 L211.6 352.1 L212.3 363.0 L213.0 354.9 L213.7 354.2 L214.4 355.0 L215.1 360.4 L215.8 361.7 L216.5 361.0 L217.2 360.0 L217.9 361.1 L218.6 359.2 L219.3 358.1 L220.0 357.1 L220.7 357.5 L221.4 359.4 L222.1 350.7 L222.8 356.1 L223.5 355.3 L224.2 354.0 L224.9 354.5 L225.6 354.9 L226.3 353.1 L227.0 352.5 L227.7 351.4 L228.4 350.3 L229.1 351.5 L229.8 346.7 L230.5 351.7 L231.2 351.0 L231.9 349.7 L232.6 349.0 L233.3 348.9 L234.0 345.9 L234.7 342.1 L235.4 339.3 L236.1 335.6 L236.8 335.6 L237.5 336.4 L238.2 339.4 L238.9 342.1 L239.6 345.5 L240.3 342.9 L241.0 347.3 L241.7 348.1 L242.4 347.6 L243.1 347.2 L243.8 343.5 L244.5 335.1 L245.2 328.5 L245.9 334.4 L246.6 325.9 L247.3 326.6 L248.0 326.8 L248.7 324.3 L249.4 323.4 L250.1 323.8 L250.8 328.3 L251.5 334.4 L252.2 343.9 L252.9 346.5 L253.6 345.5 L254.3 347.6 L255.0 349.1 L255.7 347.2 L256.4 348.4 L257.1 350.7 L257.8 348.9 L258.5 346.0 L259.2 346.6 L259.9 348.3 L260.6 346.8 L261.3 348.1 L262.0 348.8 L262.7 351.5 L263.4 351.3 L264.1 351.8 L264.8 349.0 L265.5 350.1 L266.2 350.3 L266.9 349.4 L267.6 345.8 L268.3 341.8 L269.0 341.3 L269.7 341.0 L270.4 341.5 L271.1 349.5 L271.8 346.4 L272.5 348.9 L273.2 352.9 L273.9 354.7 L274.6 354.8 L275.3 354.5 L276.0 357.4 L276.7 357.4 L277.4 355.6 L278.1 348.7 L278.8 347.7 L279.5 347.0 L280.2 353.4 L280.9 343.6 L281.6 342.4 L282.3 341.4 L283.0 337.6 L283.7 340.9 L284.4 342.3 L285.1 341.8 L285.8 346.7 L286.5 344.2 L287.2 340.9 L287.9 332.5 L288.6 334.3 L289.3 333.2 L290.0 330.2 L290.7 327.4 L291.4 321.0 L292.1 324.3 L292.8 325.1 L293.5 332.0 L294.2 333.6 L294.9 340.1 L295.6 343.9 L296.3 350.9 L297.0 347.3 L297.7 350.9 L298.4 351.9 L299.1 353.2 L299.8 351.2 L300.5 349.5 L301.2 348.8 L301.9 343.7 L302.6 340.0 L303.3 342.9 L304.0 343.2 L304.7 345.0 L305.4 345.1 L306.1 345.8 L306.8 345.9 L307.5 347.3 L308.2 346.9 L308.9 348.5 L309.6 351.8 L310.3 352.7 L311.0 354.4 L311.7 353.4 L312.4 354.7 L313.1 357.2 L313.8 356.9 L314.5 358.1 L315.2 359.4 L315.9 359.3 L316.6 359.8 L317.3 359.8 L318.0 363.3 L318.7 367.6 L319.4 370.6 L320.1 370.9 L320.8 373.6 L321.5 377.7 L322.2 379.8 L322.9 381.9 L323.6 384.8 L323.9 386.3 L324.5 387.0 Z M336.2 387.0 L337.4 378.7 L338.1 372.9 L338.8 370.6 L339.5 366.9 L340.2 365.9 L340.9 362.5 L341.6 361.2 L342.3 361.2 L343.0 359.8 L343.7 359.3 L344.4 363.0 L345.1 358.7 L345.8 358.4 L346.5 359.5 L347.2 356.3 L347.9 354.6 L348.6 355.1 L349.3 354.5 L350.0 352.7 L350.7 351.7 L351.4 349.3 L352.1 351.7 L352.8 351.8 L353.5 354.1 L354.2 355.2 L354.9 355.0 L355.6 357.6 L356.3 358.1 L357.0 359.0 L357.7 357.3 L358.4 356.5 L359.1 355.3 L359.8 354.7 L360.5 352.2 L361.2 350.6 L361.9 350.5 L362.6 349.2 L363.3 347.9 L364.0 351.6 L364.7 353.2 L365.4 355.4 L366.1 358.1 L366.8 361.4 L367.5 359.5 L368.2 362.3 L368.9 362.7 L369.6 361.5 L370.3 359.4 L371.0 356.6 L371.7 352.5 L372.4 351.2 L373.1 353.5 L373.8 353.1 L374.5 349.7 L375.2 352.5 L375.9 355.5 L376.6 359.8 L377.3 360.6 L378.0 360.4 L378.7 361.7 L379.4 355.3 L380.1 355.8 L380.8 353.9 L381.5 349.9 L382.2 349.1 L382.9 348.6 L383.6 347.3 L384.3 347.9 L385.0 348.4 L385.7 345.2 L386.4 347.6 L387.1 348.3 L387.8 347.1 L388.5 348.0 L389.2 347.7 L389.9 345.3 L390.6 345.4 L391.3 341.7 L392.0 341.9 L392.7 339.7 L393.4 335.1 L394.1 331.1 L394.8 328.7 L395.5 330.6 L396.2 330.8 L396.9 325.9 L397.6 330.6 L398.3 331.9 L399.0 333.8 L399.7 334.1 L400.4 335.8 L401.1 338.3 L401.8 336.4 L402.5 335.7 L403.2 334.1 L403.9 328.9 L404.6 328.3 L405.3 325.6 L406.0 323.4 L406.7 320.4 L407.4 316.4 L408.1 316.7 L408.8 308.8 L409.5 304.4 L410.2 301.4 L410.9 304.0 L411.6 302.8 L412.3 309.2 L413.0 312.9 L413.7 312.3 L414.4 317.4 L415.1 313.9 L415.8 327.4 L416.5 332.8 L417.2 336.3 L417.9 335.6 L418.6 328.5 L419.3 333.1 L420.0 331.5 L420.7 330.6 L421.4 330.4 L422.1 329.8 L422.8 331.9 L423.5 333.7 L424.2 334.5 L424.9 334.4 L425.6 336.7 L426.3 336.4 L427.0 337.2 L427.7 335.3 L428.4 338.7 L429.1 337.8 L429.8 342.8 L430.5 340.2 L431.2 340.1 L431.9 343.6 L432.6 344.8 L433.3 347.1 L434.0 342.2 L434.7 350.6 L435.4 355.5 L436.1 358.2 L436.8 361.8 L437.5 365.5 L438.2 365.6 L438.9 364.5 L439.6 370.9 L440.3 365.8 L441.0 365.0 L441.7 369.6 L442.4 370.3 L443.1 371.5 L443.8 370.8 L444.5 372.7 L445.2 373.2 L445.9 371.9 L446.6 370.4 L447.3 376.3 L448.0 375.6 L448.7 374.4 L449.4 374.2 L450.1 373.4 L450.8 371.8 L451.5 370.0 L452.2 369.3 L452.9 369.4 L453.6 368.4 L454.3 368.1 L455.0 362.1 L455.7 364.3 L456.4 362.7 L457.1 362.8 L457.8 361.5 L458.5 360.9 L459.2 372.0 L459.9 360.5 L460.6 359.9 L461.3 360.7 L462.0 360.8 L462.7 363.1 L463.4 358.9 L464.1 359.6 L464.8 357.6 L465.5 358.0 L466.2 356.6 L466.9 356.8 L467.6 351.6 L468.3 353.1 L469.0 355.3 L469.7 354.8 L470.4 352.8 L471.1 353.4 L471.8 352.0 L472.5 352.4 L473.2 352.1 L473.9 336.9 L474.6 335.9 L475.3 335.8 L476.0 334.8 L476.7 332.6 L477.4 329.8 L478.1 330.4 L478.8 328.5 L479.5 329.3 L480.2 331.8 L480.9 335.8 L481.6 332.9 L482.3 331.7 L483.0 330.5 L483.7 332.6 L484.4 334.6 L485.1 339.4 L485.8 337.6 L486.5 337.5 L487.2 340.2 L487.9 341.4 L488.6 342.0 L489.3 343.5 L490.0 347.3 L490.7 349.7 L491.4 350.1 L492.1 349.8 L492.8 344.7 L493.5 342.4 L494.2 341.0 L494.9 339.0 L495.6 337.2 L496.3 339.6 L497.0 342.0 L497.7 343.9 L498.4 351.4 L499.1 359.3 L499.8 367.8 L500.5 379.0 L501.2 378.6 L501.9 378.8 L502.6 379.0 L503.3 380.0 L504.0 384.6 L504.7 382.7 L505.4 380.4 L506.1 379.2 L506.8 380.2 L507.5 382.2 L508.2 383.4 L508.9 384.1 L509.6 380.8 L510.3 386.5 L511.0 385.3 L511.2 386.3 L516.0 387.0 Z" fill="#000"/><path d="M57.5 387.2H83.8 M116 387.2H517" stroke="#000" stroke-width="1"/><rect x="66.9" y="398.3" width="11.6" height="3.4" fill="#000"/><path d="M78.5 400H117" stroke="#000" stroke-width="0.8"/><path d="M81.0 399L82.2 400L81.0 401M84.8 399L86.0 400L84.8 401M88.6 399L89.8 400L88.6 401M92.4 399L93.6 400L92.4 401M96.2 399L97.4 400L96.2 401M100.0 399L101.2 400L100.0 401M103.8 399L105.0 400L103.8 401M107.6 399L108.8 400L107.6 401M111.4 399L112.6 400L111.4 401M115.2 399L116.4 400L115.2 401" stroke="#000" stroke-width="0.7" fill="none"/><rect x="116.8" y="397.7" width="322.4" height="4.1" fill="#000"/><rect x="439" y="398.7" width="77" height="2.6" fill="#000"/></svg></body></html>
